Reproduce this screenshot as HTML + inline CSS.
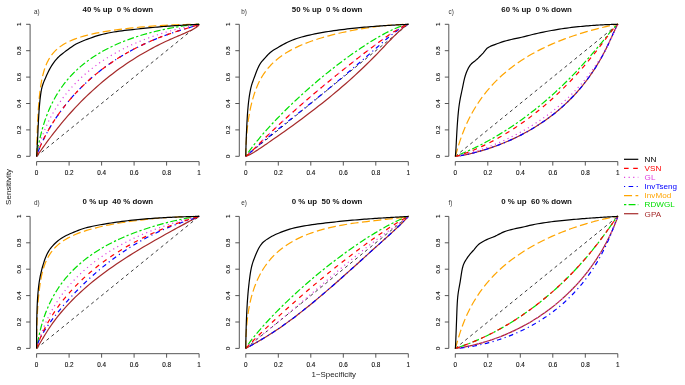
<!DOCTYPE html><html><head><meta charset="utf-8"><style>html,body{margin:0;padding:0;background:#fff;}svg{display:block;filter:blur(0.35px)}text{font-family:"Liberation Sans",sans-serif;white-space:pre}</style></head><body>
<svg width="685" height="385" viewBox="0 0 685 385">
<rect width="685" height="385" fill="#fff"/>
<line x1="30.10" y1="156.30" x2="30.10" y2="24.30" stroke="#444" stroke-width="0.9"/>
<line x1="26.10" y1="156.30" x2="30.10" y2="156.30" stroke="#444" stroke-width="0.9"/>
<text x="0" y="0" transform="translate(20.90,156.30) rotate(-90)" font-size="6.1" text-anchor="middle" fill="#111" stroke="#111" stroke-width="0.12">0</text>
<line x1="26.10" y1="129.90" x2="30.10" y2="129.90" stroke="#444" stroke-width="0.9"/>
<text x="0" y="0" transform="translate(20.90,129.90) rotate(-90)" font-size="6.1" text-anchor="middle" fill="#111" stroke="#111" stroke-width="0.12">0.2</text>
<line x1="26.10" y1="103.50" x2="30.10" y2="103.50" stroke="#444" stroke-width="0.9"/>
<text x="0" y="0" transform="translate(20.90,103.50) rotate(-90)" font-size="6.1" text-anchor="middle" fill="#111" stroke="#111" stroke-width="0.12">0.4</text>
<line x1="26.10" y1="77.10" x2="30.10" y2="77.10" stroke="#444" stroke-width="0.9"/>
<text x="0" y="0" transform="translate(20.90,77.10) rotate(-90)" font-size="6.1" text-anchor="middle" fill="#111" stroke="#111" stroke-width="0.12">0.6</text>
<line x1="26.10" y1="50.70" x2="30.10" y2="50.70" stroke="#444" stroke-width="0.9"/>
<text x="0" y="0" transform="translate(20.90,50.70) rotate(-90)" font-size="6.1" text-anchor="middle" fill="#111" stroke="#111" stroke-width="0.12">0.8</text>
<line x1="26.10" y1="24.30" x2="30.10" y2="24.30" stroke="#444" stroke-width="0.9"/>
<text x="0" y="0" transform="translate(20.90,24.30) rotate(-90)" font-size="6.1" text-anchor="middle" fill="#111" stroke="#111" stroke-width="0.12">1</text>
<line x1="36.60" y1="161.58" x2="199.10" y2="161.58" stroke="#444" stroke-width="0.9"/>
<line x1="36.60" y1="161.58" x2="36.60" y2="165.58" stroke="#444" stroke-width="0.9"/>
<text x="36.60" y="175.33" font-size="6.35" text-anchor="middle" fill="#111" stroke="#111" stroke-width="0.12">0</text>
<line x1="69.10" y1="161.58" x2="69.10" y2="165.58" stroke="#444" stroke-width="0.9"/>
<text x="69.10" y="175.33" font-size="6.35" text-anchor="middle" fill="#111" stroke="#111" stroke-width="0.12">0.2</text>
<line x1="101.60" y1="161.58" x2="101.60" y2="165.58" stroke="#444" stroke-width="0.9"/>
<text x="101.60" y="175.33" font-size="6.35" text-anchor="middle" fill="#111" stroke="#111" stroke-width="0.12">0.4</text>
<line x1="134.10" y1="161.58" x2="134.10" y2="165.58" stroke="#444" stroke-width="0.9"/>
<text x="134.10" y="175.33" font-size="6.35" text-anchor="middle" fill="#111" stroke="#111" stroke-width="0.12">0.6</text>
<line x1="166.60" y1="161.58" x2="166.60" y2="165.58" stroke="#444" stroke-width="0.9"/>
<text x="166.60" y="175.33" font-size="6.35" text-anchor="middle" fill="#111" stroke="#111" stroke-width="0.12">0.8</text>
<line x1="199.10" y1="161.58" x2="199.10" y2="165.58" stroke="#444" stroke-width="0.9"/>
<text x="199.10" y="175.33" font-size="6.35" text-anchor="middle" fill="#111" stroke="#111" stroke-width="0.12">1</text>
<line x1="36.60" y1="156.30" x2="199.10" y2="24.30" stroke="#333" stroke-width="0.95" stroke-dasharray="3.2 3.2"/>
<polyline points="36.60,156.30 36.60,156.30 36.60,156.30 36.60,156.30 36.60,156.30 36.61,156.30 36.61,156.29 36.61,156.29 36.61,156.29 36.61,156.29 36.62,156.29 36.62,156.28 36.62,156.28 36.63,156.27 36.64,156.27 36.64,156.26 36.65,156.25 36.66,156.23 36.68,156.22 36.69,156.20 36.71,156.18 36.74,156.15 36.76,156.12 36.79,156.08 36.83,156.03 36.87,155.98 36.92,155.91 36.98,155.84 37.05,155.75 37.13,155.64 37.22,155.52 37.32,155.38 37.44,155.22 37.58,155.03 37.74,154.81 37.92,154.56 38.12,154.28 38.35,153.96 38.61,153.60 38.90,153.19 39.23,152.72 39.60,152.21 40.01,151.63 40.47,150.98 40.97,150.27 41.53,149.48 42.15,148.61 42.84,147.66 43.59,146.61 44.41,145.48 45.30,144.24 46.28,142.90 47.34,141.46 48.48,139.91 49.72,138.25 51.06,136.49 52.49,134.61 54.02,132.63 55.66,130.53 57.40,128.34 59.25,126.04 61.21,123.65 63.28,121.17 65.46,118.61 67.75,115.97 70.15,113.27 72.65,110.50 75.25,107.69 77.96,104.83 80.76,101.95 83.65,99.04 86.63,96.13 89.69,93.22 92.82,90.32 96.02,87.43 99.27,84.58 102.58,81.77 105.93,79.01 109.31,76.30 112.72,73.66 116.14,71.08 119.56,68.58 122.98,66.15 126.39,63.82 129.77,61.56 133.12,59.40 136.43,57.33 139.68,55.35 142.88,53.46 146.01,51.67 149.07,49.97 152.05,48.35 154.94,46.83 157.74,45.39 160.45,44.04 163.05,42.77 165.55,41.58 167.95,40.46 170.24,39.42 172.42,38.45 174.49,37.54 176.45,36.70 178.30,35.91 180.04,35.18 181.68,34.50 183.21,33.85 184.64,33.24 185.98,32.65 187.22,32.10 188.36,31.57 189.42,31.08 190.40,30.61 191.29,30.17 192.11,29.75 192.86,29.36 193.55,28.99 194.17,28.64 194.73,28.31 195.23,28.01 195.69,27.72 196.10,27.46 196.47,27.21 196.80,26.97 197.09,26.76 197.35,26.56 197.58,26.37 197.78,26.20 197.96,26.04 198.12,25.89 198.26,25.75 198.38,25.62 198.48,25.50 198.57,25.40 198.65,25.30 198.72,25.20 198.78,25.12 198.83,25.04 198.87,24.97 198.91,24.91 198.94,24.85 198.96,24.80 198.99,24.75 199.01,24.70 199.02,24.66 199.04,24.63 199.05,24.59 199.06,24.56 199.06,24.53 199.07,24.51 199.08,24.49 199.08,24.47 199.08,24.45 199.09,24.43 199.09,24.42 199.09,24.40 199.09,24.39 199.09,24.38 199.10,24.37 199.10,24.36 199.10,24.36 199.10,24.35 199.10,24.30" fill="none" stroke="#a52a2a" stroke-width="1.2" stroke-linejoin="round"/>
<polyline points="36.60,156.30 36.60,156.29 36.60,156.29 36.60,156.29 36.60,156.29 36.61,156.28 36.61,156.28 36.61,156.27 36.61,156.26 36.61,156.25 36.62,156.24 36.62,156.22 36.62,156.20 36.63,156.17 36.64,156.14 36.64,156.10 36.65,156.04 36.66,155.98 36.68,155.91 36.69,155.81 36.71,155.70 36.74,155.57 36.76,155.41 36.79,155.22 36.83,155.00 36.87,154.74 36.92,154.43 36.98,154.07 37.05,153.66 37.13,153.18 37.22,152.63 37.32,152.01 37.44,151.29 37.58,150.49 37.74,149.58 37.92,148.57 38.12,147.43 38.35,146.18 38.61,144.79 38.90,143.29 39.23,141.67 39.60,139.93 40.01,138.08 40.47,136.10 40.97,134.02 41.53,131.82 42.15,129.52 42.84,127.13 43.59,124.64 44.41,122.07 45.30,119.42 46.28,116.70 47.34,113.93 48.48,111.10 49.72,108.24 51.06,105.34 52.49,102.42 54.02,99.49 55.66,96.56 57.40,93.63 59.25,90.72 61.21,87.83 63.28,84.98 65.46,82.16 67.75,79.38 70.15,76.66 72.65,73.99 75.25,71.39 77.96,68.85 80.76,66.38 83.65,63.99 86.63,61.67 89.69,59.44 92.82,57.28 96.02,55.21 99.27,53.23 102.58,51.32 105.93,49.50 109.31,47.77 112.72,46.12 116.14,44.55 119.56,43.06 122.98,41.66 126.39,40.33 129.77,39.07 133.12,37.90 136.43,36.79 139.68,35.75 142.88,34.78 146.01,33.87 149.07,33.03 152.05,32.24 154.94,31.51 157.74,30.84 160.45,30.21 163.05,29.64 165.55,29.11 167.95,28.62 170.24,28.17 172.42,27.76 174.49,27.39 176.45,27.05 178.30,26.74 180.04,26.46 181.68,26.21 183.21,25.99 184.64,25.78 185.98,25.60 187.22,25.44 188.36,25.30 189.42,25.17 190.40,25.06 191.29,24.96 192.11,24.87 192.86,24.79 193.55,24.72 194.17,24.66 194.73,24.61 195.23,24.57 195.69,24.53 196.10,24.50 196.47,24.47 196.80,24.44 197.09,24.42 197.35,24.40 197.58,24.39 197.78,24.37 197.96,24.36 198.12,24.35 198.26,24.34 198.38,24.34 198.48,24.33 198.57,24.32 198.65,24.32 198.72,24.32 198.78,24.31 198.83,24.31 198.87,24.31 198.91,24.31 198.94,24.31 198.96,24.31 198.99,24.30 199.01,24.30 199.02,24.30 199.04,24.30 199.05,24.30 199.06,24.30 199.06,24.30 199.07,24.30 199.08,24.30 199.08,24.30 199.08,24.30 199.09,24.30 199.09,24.30 199.09,24.30 199.09,24.30 199.09,24.30 199.10,24.30 199.10,24.30 199.10,24.30 199.10,24.30 199.10,24.30" fill="none" stroke="#00e000" stroke-width="1.2" stroke-dasharray="2.30 2.30 6.90 2.30" stroke-linejoin="round"/>
<polyline points="36.60,156.30 36.60,156.29 36.60,156.29 36.60,156.29 36.60,156.28 36.61,156.28 36.61,156.27 36.61,156.27 36.61,156.26 36.61,156.25 36.62,156.24 36.62,156.22 36.62,156.21 36.63,156.19 36.64,156.16 36.64,156.13 36.65,156.10 36.66,156.06 36.68,156.01 36.69,155.95 36.71,155.88 36.74,155.81 36.76,155.72 36.79,155.61 36.83,155.49 36.87,155.35 36.92,155.18 36.98,155.00 37.05,154.78 37.13,154.54 37.22,154.27 37.32,153.96 37.44,153.60 37.58,153.21 37.74,152.77 37.92,152.27 38.12,151.72 38.35,151.11 38.61,150.44 38.90,149.70 39.23,148.88 39.60,147.98 40.01,147.01 40.47,145.95 40.97,144.80 41.53,143.55 42.15,142.21 42.84,140.77 43.59,139.23 44.41,137.59 45.30,135.85 46.28,134.00 47.34,132.06 48.48,130.01 49.72,127.87 51.06,125.64 52.49,123.31 54.02,120.90 55.66,118.41 57.40,115.85 59.25,113.22 61.21,110.53 63.28,107.79 65.46,105.00 67.75,102.19 70.15,99.34 72.65,96.48 75.25,93.62 77.96,90.75 80.76,87.90 83.65,85.06 86.63,82.25 89.69,79.48 92.82,76.76 96.02,74.09 99.27,71.47 102.58,68.92 105.93,66.44 109.31,64.03 112.72,61.70 116.14,59.46 119.56,57.29 122.98,55.22 126.39,53.24 129.77,51.34 133.12,49.53 136.43,47.82 139.68,46.19 142.88,44.65 146.01,43.19 149.07,41.82 152.05,40.54 154.94,39.33 157.74,38.19 160.45,37.14 163.05,36.15 165.55,35.23 167.95,34.37 170.24,33.58 172.42,32.84 174.49,32.16 176.45,31.53 178.30,30.94 180.04,30.40 181.68,29.91 183.21,29.44 184.64,29.01 185.98,28.61 187.22,28.24 188.36,27.89 189.42,27.57 190.40,27.28 191.29,27.00 192.11,26.75 192.86,26.52 193.55,26.31 194.17,26.11 194.73,25.94 195.23,25.77 195.69,25.62 196.10,25.49 196.47,25.37 196.80,25.25 197.09,25.15 197.35,25.06 197.58,24.98 197.78,24.90 197.96,24.84 198.12,24.78 198.26,24.72 198.38,24.67 198.48,24.63 198.57,24.59 198.65,24.56 198.72,24.53 198.78,24.50 198.83,24.47 198.87,24.45 198.91,24.43 198.94,24.42 198.96,24.40 198.99,24.39 199.01,24.38 199.02,24.37 199.04,24.36 199.05,24.35 199.06,24.34 199.06,24.34 199.07,24.33 199.08,24.33 199.08,24.32 199.08,24.32 199.09,24.32 199.09,24.31 199.09,24.31 199.09,24.31 199.09,24.31 199.10,24.31 199.10,24.31 199.10,24.31 199.10,24.30 199.10,24.30" fill="none" stroke="#0000ff" stroke-width="1.2" stroke-dasharray="1.15 3.45 4.60 3.45" stroke-linejoin="round"/>
<polyline points="36.60,156.30 36.60,156.29 36.60,156.29 36.60,156.28 36.60,156.28 36.61,156.27 36.61,156.26 36.61,156.25 36.61,156.24 36.61,156.23 36.62,156.21 36.62,156.19 36.62,156.17 36.63,156.14 36.64,156.10 36.64,156.06 36.65,156.01 36.66,155.95 36.68,155.88 36.69,155.79 36.71,155.70 36.74,155.58 36.76,155.44 36.79,155.29 36.83,155.10 36.87,154.89 36.92,154.65 36.98,154.37 37.05,154.06 37.13,153.70 37.22,153.29 37.32,152.83 37.44,152.31 37.58,151.73 37.74,151.08 37.92,150.36 38.12,149.56 38.35,148.68 38.61,147.71 38.90,146.64 39.23,145.48 39.60,144.23 40.01,142.87 40.47,141.42 40.97,139.86 41.53,138.21 42.15,136.45 42.84,134.59 43.59,132.64 44.41,130.59 45.30,128.45 46.28,126.22 47.34,123.90 48.48,121.50 49.72,119.03 51.06,116.49 52.49,113.90 54.02,111.24 55.66,108.54 57.40,105.80 59.25,103.03 61.21,100.24 63.28,97.44 65.46,94.63 67.75,91.82 70.15,89.02 72.65,86.23 75.25,83.48 77.96,80.75 80.76,78.07 83.65,75.43 86.63,72.84 89.69,70.31 92.82,67.84 96.02,65.44 99.27,63.11 102.58,60.86 105.93,58.68 109.31,56.58 112.72,54.56 116.14,52.62 119.56,50.76 122.98,48.99 126.39,47.31 129.77,45.70 133.12,44.18 136.43,42.73 139.68,41.37 142.88,40.08 146.01,38.87 149.07,37.73 152.05,36.67 154.94,35.67 157.74,34.74 160.45,33.87 163.05,33.06 165.55,32.30 167.95,31.61 170.24,30.96 172.42,30.36 174.49,29.81 176.45,29.30 178.30,28.84 180.04,28.41 181.68,28.01 183.21,27.65 184.64,27.32 185.98,27.02 187.22,26.74 188.36,26.49 189.42,26.26 190.40,26.05 191.29,25.86 192.11,25.69 192.86,25.53 193.55,25.39 194.17,25.27 194.73,25.16 195.23,25.06 195.69,24.97 196.10,24.88 196.47,24.81 196.80,24.75 197.09,24.69 197.35,24.64 197.58,24.60 197.78,24.56 197.96,24.53 198.12,24.50 198.26,24.47 198.38,24.45 198.48,24.43 198.57,24.41 198.65,24.39 198.72,24.38 198.78,24.37 198.83,24.36 198.87,24.35 198.91,24.34 198.94,24.34 198.96,24.33 198.99,24.33 199.01,24.32 199.02,24.32 199.04,24.32 199.05,24.31 199.06,24.31 199.06,24.31 199.07,24.31 199.08,24.31 199.08,24.31 199.08,24.30 199.09,24.30 199.09,24.30 199.09,24.30 199.09,24.30 199.09,24.30 199.10,24.30 199.10,24.30 199.10,24.30 199.10,24.30 199.10,24.30" fill="none" stroke="#e040e0" stroke-width="1.2" stroke-dasharray="1.15 3.45" stroke-linejoin="round"/>
<polyline points="36.60,156.30 36.60,156.29 36.60,156.29 36.60,156.29 36.60,156.28 36.61,156.28 36.61,156.27 36.61,156.27 36.61,156.26 36.61,156.25 36.62,156.24 36.62,156.22 36.62,156.21 36.63,156.19 36.64,156.16 36.64,156.13 36.65,156.10 36.66,156.06 36.68,156.01 36.69,155.95 36.71,155.88 36.74,155.81 36.76,155.72 36.79,155.61 36.83,155.49 36.87,155.35 36.92,155.18 36.98,155.00 37.05,154.78 37.13,154.54 37.22,154.27 37.32,153.96 37.44,153.60 37.58,153.21 37.74,152.77 37.92,152.27 38.12,151.72 38.35,151.11 38.61,150.44 38.90,149.70 39.23,148.88 39.60,147.98 40.01,147.01 40.47,145.95 40.97,144.80 41.53,143.55 42.15,142.21 42.84,140.77 43.59,139.23 44.41,137.59 45.30,135.85 46.28,134.00 47.34,132.06 48.48,130.01 49.72,127.87 51.06,125.64 52.49,123.31 54.02,120.90 55.66,118.41 57.40,115.85 59.25,113.22 61.21,110.53 63.28,107.79 65.46,105.00 67.75,102.19 70.15,99.34 72.65,96.48 75.25,93.62 77.96,90.75 80.76,87.90 83.65,85.06 86.63,82.25 89.69,79.48 92.82,76.76 96.02,74.09 99.27,71.47 102.58,68.92 105.93,66.44 109.31,64.03 112.72,61.70 116.14,59.46 119.56,57.29 122.98,55.22 126.39,53.24 129.77,51.34 133.12,49.53 136.43,47.82 139.68,46.19 142.88,44.65 146.01,43.19 149.07,41.82 152.05,40.54 154.94,39.33 157.74,38.19 160.45,37.14 163.05,36.15 165.55,35.23 167.95,34.37 170.24,33.58 172.42,32.84 174.49,32.16 176.45,31.53 178.30,30.94 180.04,30.40 181.68,29.91 183.21,29.44 184.64,29.01 185.98,28.61 187.22,28.24 188.36,27.89 189.42,27.57 190.40,27.28 191.29,27.00 192.11,26.75 192.86,26.52 193.55,26.31 194.17,26.11 194.73,25.94 195.23,25.77 195.69,25.62 196.10,25.49 196.47,25.37 196.80,25.25 197.09,25.15 197.35,25.06 197.58,24.98 197.78,24.90 197.96,24.84 198.12,24.78 198.26,24.72 198.38,24.67 198.48,24.63 198.57,24.59 198.65,24.56 198.72,24.53 198.78,24.50 198.83,24.47 198.87,24.45 198.91,24.43 198.94,24.42 198.96,24.40 198.99,24.39 199.01,24.38 199.02,24.37 199.04,24.36 199.05,24.35 199.06,24.34 199.06,24.34 199.07,24.33 199.08,24.33 199.08,24.32 199.08,24.32 199.09,24.32 199.09,24.31 199.09,24.31 199.09,24.31 199.09,24.31 199.10,24.31 199.10,24.31 199.10,24.31 199.10,24.30 199.10,24.30" fill="none" stroke="#ff0000" stroke-width="1.2" stroke-dasharray="4.60 4.60" stroke-linejoin="round"/>
<polyline points="36.60,156.30 36.60,156.27 36.60,156.26 36.60,156.24 36.60,156.22 36.61,156.19 36.61,156.16 36.61,156.11 36.61,156.05 36.61,155.96 36.62,155.86 36.62,155.73 36.62,155.56 36.63,155.35 36.64,155.08 36.64,154.76 36.65,154.36 36.66,153.88 36.68,153.31 36.69,152.61 36.71,151.79 36.74,150.83 36.76,149.71 36.79,148.41 36.83,146.91 36.87,145.21 36.92,143.29 36.98,141.13 37.05,138.73 37.13,136.08 37.22,133.18 37.32,130.05 37.44,126.76 37.58,123.34 37.74,119.83 37.92,116.23 38.12,112.59 38.35,108.92 38.61,105.25 38.90,101.60 39.23,97.99 39.60,94.44 40.01,90.96 40.47,87.57 40.97,84.28 41.53,81.09 42.15,78.02 42.84,75.06 43.59,72.23 44.41,69.52 45.30,66.93 46.28,64.47 47.34,62.12 48.48,59.90 49.72,57.79 51.06,55.79 52.49,53.89 54.02,52.10 55.66,50.41 57.40,48.81 59.25,47.30 61.21,45.88 63.28,44.53 65.46,43.26 67.75,42.07 70.15,40.94 72.65,39.87 75.25,38.86 77.96,37.91 80.76,37.01 83.65,36.16 86.63,35.36 89.69,34.60 92.82,33.89 96.02,33.21 99.27,32.57 102.58,31.97 105.93,31.40 109.31,30.86 112.72,30.35 116.14,29.87 119.56,29.42 122.98,28.99 126.39,28.59 129.77,28.22 133.12,27.86 136.43,27.53 139.68,27.22 142.88,26.94 146.01,26.67 149.07,26.42 152.05,26.19 154.94,25.97 157.74,25.78 160.45,25.60 163.05,25.44 165.55,25.29 167.95,25.16 170.24,25.04 172.42,24.94 174.49,24.85 176.45,24.77 178.30,24.70 180.04,24.64 181.68,24.59 183.21,24.55 184.64,24.51 185.98,24.48 187.22,24.45 188.36,24.42 189.42,24.40 190.40,24.39 191.29,24.37 192.11,24.36 192.86,24.35 193.55,24.34 194.17,24.33 194.73,24.33 195.23,24.32 195.69,24.32 196.10,24.32 196.47,24.31 196.80,24.31 197.09,24.31 197.35,24.31 197.58,24.31 197.78,24.30 197.96,24.30 198.12,24.30 198.26,24.30 198.38,24.30 198.48,24.30 198.57,24.30 198.65,24.30 198.72,24.30 198.78,24.30 198.83,24.30 198.87,24.30 198.91,24.30 198.94,24.30 198.96,24.30 198.99,24.30 199.01,24.30 199.02,24.30 199.04,24.30 199.05,24.30 199.06,24.30 199.06,24.30 199.07,24.30 199.08,24.30 199.08,24.30 199.08,24.30 199.09,24.30 199.09,24.30 199.09,24.30 199.09,24.30 199.09,24.30 199.10,24.30 199.10,24.30 199.10,24.30 199.10,24.30 199.10,24.30" fill="none" stroke="#ffa500" stroke-width="1.2" stroke-dasharray="8.05 3.45" stroke-linejoin="round"/>
<polyline points="36.60,156.30 36.60,156.30 36.60,156.30 36.60,156.30 36.60,156.30 36.60,156.29 36.61,156.29 36.61,156.29 36.61,156.28 36.61,156.28 36.61,156.27 36.61,156.26 36.62,156.25 36.62,156.24 36.62,156.22 36.62,156.19 36.63,156.16 36.63,156.12 36.64,156.06 36.65,156.00 36.66,155.92 36.66,155.82 36.67,155.69 36.69,155.54 36.70,155.35 36.72,155.13 36.74,154.86 36.76,154.54 36.78,154.16 36.81,153.72 36.84,153.19 36.87,152.58 36.91,151.87 36.96,151.06 37.01,150.12 37.06,149.06 37.13,147.85 37.20,146.50 37.28,144.98 37.37,143.30 37.47,141.44 37.58,139.40 37.70,137.17 37.84,134.13 37.99,130.63 38.16,126.96 38.34,123.17 38.54,119.32 38.77,115.46 39.01,111.65 39.28,107.92 39.58,104.33 39.90,100.90 40.25,97.68 40.64,94.70 41.05,91.96 41.50,89.49 41.99,87.33 42.52,85.44 43.08,83.73 43.70,82.14 44.36,80.57 45.06,78.95 45.82,77.21 46.63,75.35 47.49,73.45 48.41,71.54 49.38,69.64 50.42,67.76 51.52,65.92 52.68,64.14 53.91,62.41 55.20,60.72 56.56,59.08 57.99,57.52 59.49,56.07 61.06,54.72 62.70,53.42 64.41,52.13 66.18,50.81 68.03,49.44 69.95,48.03 71.93,46.64 73.98,45.32 76.10,44.09 78.28,42.97 80.52,41.93 82.81,40.94 85.17,40.00 87.57,39.09 90.03,38.20 92.53,37.32 95.08,36.43 97.66,35.62 100.28,34.89 102.93,34.22 105.61,33.60 108.31,33.03 111.02,32.50 113.75,32.02 116.48,31.58 119.22,31.18 121.95,30.81 124.68,30.47 127.39,30.15 130.09,29.85 132.77,29.55 135.42,29.27 138.04,28.99 140.62,28.72 143.17,28.45 145.67,28.19 148.13,27.95 150.53,27.71 152.89,27.49 155.18,27.27 157.42,27.07 159.60,26.87 161.72,26.69 163.77,26.51 165.75,26.35 167.67,26.20 169.52,26.06 171.29,25.93 173.00,25.81 174.64,25.70 176.21,25.59 177.71,25.49 179.14,25.40 180.50,25.32 181.79,25.24 183.02,25.16 184.18,25.09 185.28,25.03 186.32,24.97 187.29,24.92 188.21,24.87 189.07,24.82 189.88,24.77 190.64,24.73 191.34,24.70 192.00,24.66 192.62,24.63 193.18,24.60 193.71,24.58 194.20,24.55 194.65,24.53 195.06,24.51 195.45,24.49 195.80,24.47 196.12,24.46 196.42,24.44 196.69,24.43 196.93,24.42 197.16,24.40 197.36,24.39 197.54,24.38 197.71,24.38 197.86,24.37 198.00,24.36 198.12,24.36 198.23,24.35 198.33,24.35 198.42,24.34 198.50,24.34 198.57,24.33 198.64,24.33 198.69,24.33 198.74,24.32 198.79,24.32 198.83,24.32 198.86,24.32 198.89,24.31 198.92,24.31 198.94,24.31 198.96,24.31 198.98,24.31 199.00,24.31 199.01,24.31 199.03,24.31 199.04,24.31 199.04,24.31 199.05,24.30 199.06,24.30 199.07,24.30 199.07,24.30 199.08,24.30 199.08,24.30 199.08,24.30 199.08,24.30 199.09,24.30 199.09,24.30 199.09,24.30 199.09,24.30 199.09,24.30 199.09,24.30 199.10,24.30 199.10,24.30 199.10,24.30 199.10,24.30 199.10,24.30 199.10,24.30" fill="none" stroke="#000000" stroke-width="1.2" stroke-linejoin="round"/>
<text xml:space="preserve" x="117.85" y="11.90" font-size="7.9" font-weight="bold" text-anchor="middle" fill="#111">40 % up  0 % down</text>
<text x="34.00" y="13.90" font-size="6.3" fill="#333">a)</text>
<line x1="239.30" y1="156.30" x2="239.30" y2="24.30" stroke="#444" stroke-width="0.9"/>
<line x1="235.30" y1="156.30" x2="239.30" y2="156.30" stroke="#444" stroke-width="0.9"/>
<text x="0" y="0" transform="translate(230.10,156.30) rotate(-90)" font-size="6.1" text-anchor="middle" fill="#111" stroke="#111" stroke-width="0.12">0</text>
<line x1="235.30" y1="129.90" x2="239.30" y2="129.90" stroke="#444" stroke-width="0.9"/>
<text x="0" y="0" transform="translate(230.10,129.90) rotate(-90)" font-size="6.1" text-anchor="middle" fill="#111" stroke="#111" stroke-width="0.12">0.2</text>
<line x1="235.30" y1="103.50" x2="239.30" y2="103.50" stroke="#444" stroke-width="0.9"/>
<text x="0" y="0" transform="translate(230.10,103.50) rotate(-90)" font-size="6.1" text-anchor="middle" fill="#111" stroke="#111" stroke-width="0.12">0.4</text>
<line x1="235.30" y1="77.10" x2="239.30" y2="77.10" stroke="#444" stroke-width="0.9"/>
<text x="0" y="0" transform="translate(230.10,77.10) rotate(-90)" font-size="6.1" text-anchor="middle" fill="#111" stroke="#111" stroke-width="0.12">0.6</text>
<line x1="235.30" y1="50.70" x2="239.30" y2="50.70" stroke="#444" stroke-width="0.9"/>
<text x="0" y="0" transform="translate(230.10,50.70) rotate(-90)" font-size="6.1" text-anchor="middle" fill="#111" stroke="#111" stroke-width="0.12">0.8</text>
<line x1="235.30" y1="24.30" x2="239.30" y2="24.30" stroke="#444" stroke-width="0.9"/>
<text x="0" y="0" transform="translate(230.10,24.30) rotate(-90)" font-size="6.1" text-anchor="middle" fill="#111" stroke="#111" stroke-width="0.12">1</text>
<line x1="245.80" y1="161.58" x2="408.30" y2="161.58" stroke="#444" stroke-width="0.9"/>
<line x1="245.80" y1="161.58" x2="245.80" y2="165.58" stroke="#444" stroke-width="0.9"/>
<text x="245.80" y="175.33" font-size="6.35" text-anchor="middle" fill="#111" stroke="#111" stroke-width="0.12">0</text>
<line x1="278.30" y1="161.58" x2="278.30" y2="165.58" stroke="#444" stroke-width="0.9"/>
<text x="278.30" y="175.33" font-size="6.35" text-anchor="middle" fill="#111" stroke="#111" stroke-width="0.12">0.2</text>
<line x1="310.80" y1="161.58" x2="310.80" y2="165.58" stroke="#444" stroke-width="0.9"/>
<text x="310.80" y="175.33" font-size="6.35" text-anchor="middle" fill="#111" stroke="#111" stroke-width="0.12">0.4</text>
<line x1="343.30" y1="161.58" x2="343.30" y2="165.58" stroke="#444" stroke-width="0.9"/>
<text x="343.30" y="175.33" font-size="6.35" text-anchor="middle" fill="#111" stroke="#111" stroke-width="0.12">0.6</text>
<line x1="375.80" y1="161.58" x2="375.80" y2="165.58" stroke="#444" stroke-width="0.9"/>
<text x="375.80" y="175.33" font-size="6.35" text-anchor="middle" fill="#111" stroke="#111" stroke-width="0.12">0.8</text>
<line x1="408.30" y1="161.58" x2="408.30" y2="165.58" stroke="#444" stroke-width="0.9"/>
<text x="408.30" y="175.33" font-size="6.35" text-anchor="middle" fill="#111" stroke="#111" stroke-width="0.12">1</text>
<line x1="245.80" y1="156.30" x2="408.30" y2="24.30" stroke="#333" stroke-width="0.95" stroke-dasharray="3.2 3.2"/>
<polyline points="245.80,156.30 245.80,156.30 245.80,156.30 245.80,156.30 245.80,156.30 245.81,156.30 245.81,156.30 245.81,156.30 245.81,156.30 245.81,156.30 245.82,156.30 245.82,156.30 245.82,156.30 245.83,156.30 245.84,156.29 245.84,156.29 245.85,156.29 245.86,156.29 245.88,156.29 245.89,156.28 245.91,156.28 245.94,156.27 245.96,156.27 245.99,156.26 246.03,156.25 246.07,156.24 246.12,156.22 246.18,156.20 246.25,156.18 246.33,156.16 246.42,156.13 246.52,156.09 246.64,156.05 246.78,156.00 246.94,155.94 247.12,155.86 247.32,155.78 247.55,155.68 247.81,155.57 248.10,155.44 248.43,155.28 248.80,155.11 249.21,154.90 249.67,154.67 250.17,154.40 250.73,154.10 251.35,153.76 252.04,153.38 252.79,152.94 253.61,152.46 254.50,151.91 255.48,151.31 256.54,150.63 257.68,149.89 258.92,149.08 260.26,148.19 261.69,147.23 263.22,146.20 264.86,145.09 266.60,143.90 268.45,142.63 270.41,141.28 272.48,139.85 274.66,138.33 276.95,136.73 279.35,135.04 281.85,133.28 284.45,131.43 287.16,129.49 289.96,127.48 292.85,125.39 295.83,123.22 298.89,120.97 302.02,118.66 305.22,116.27 308.47,113.82 311.78,111.30 315.13,108.72 318.51,106.09 321.92,103.41 325.34,100.69 328.76,97.92 332.18,95.12 335.59,92.30 338.97,89.45 342.32,86.58 345.63,83.71 348.88,80.84 352.08,77.98 355.21,75.13 358.27,72.30 361.25,69.50 364.14,66.75 366.94,64.03 369.65,61.38 372.25,58.78 374.75,56.25 377.15,53.80 379.44,51.44 381.62,49.16 383.69,46.98 385.65,44.91 387.50,42.96 389.24,41.15 390.88,39.46 392.41,37.90 393.84,36.45 395.18,35.13 396.42,33.91 397.56,32.81 398.62,31.80 399.60,30.89 400.49,30.07 401.31,29.34 402.06,28.68 402.75,28.09 403.37,27.58 403.93,27.12 404.43,26.72 404.89,26.36 405.30,26.06 405.67,25.79 406.00,25.56 406.29,25.36 406.55,25.19 406.78,25.04 406.98,24.92 407.16,24.81 407.32,24.72 407.46,24.65 407.58,24.59 407.68,24.53 407.77,24.49 407.85,24.45 407.92,24.43 407.98,24.40 408.03,24.38 408.07,24.36 408.11,24.35 408.14,24.34 408.16,24.33 408.19,24.33 408.21,24.32 408.22,24.32 408.24,24.31 408.25,24.31 408.26,24.31 408.26,24.31 408.27,24.30 408.28,24.30 408.28,24.30 408.28,24.30 408.29,24.30 408.29,24.30 408.29,24.30 408.29,24.30 408.29,24.30 408.30,24.30 408.30,24.30 408.30,24.30 408.30,24.30 408.30,24.30" fill="none" stroke="#a52a2a" stroke-width="1.2" stroke-linejoin="round"/>
<polyline points="245.80,156.30 245.80,156.30 245.80,156.29 245.80,156.29 245.80,156.29 245.81,156.29 245.81,156.29 245.81,156.28 245.81,156.28 245.81,156.28 245.82,156.27 245.82,156.26 245.82,156.26 245.83,156.25 245.84,156.24 245.84,156.22 245.85,156.21 245.86,156.19 245.88,156.16 245.89,156.14 245.91,156.10 245.94,156.07 245.96,156.02 245.99,155.97 246.03,155.91 246.07,155.84 246.12,155.76 246.18,155.66 246.25,155.55 246.33,155.43 246.42,155.29 246.52,155.12 246.64,154.94 246.78,154.73 246.94,154.49 247.12,154.22 247.32,153.92 247.55,153.58 247.81,153.20 248.10,152.78 248.43,152.31 248.80,151.79 249.21,151.21 249.67,150.58 250.17,149.88 250.73,149.12 251.35,148.29 252.04,147.39 252.79,146.41 253.61,145.35 254.50,144.21 255.48,142.98 256.54,141.66 257.68,140.26 258.92,138.76 260.26,137.18 261.69,135.50 263.22,133.72 264.86,131.85 266.60,129.89 268.45,127.84 270.41,125.70 272.48,123.47 274.66,121.16 276.95,118.77 279.35,116.30 281.85,113.76 284.45,111.15 287.16,108.49 289.96,105.76 292.85,103.00 295.83,100.19 298.89,97.35 302.02,94.48 305.22,91.60 308.47,88.71 311.78,85.83 315.13,82.95 318.51,80.08 321.92,77.25 325.34,74.44 328.76,71.68 332.18,68.97 335.59,66.31 338.97,63.72 342.32,61.19 345.63,58.75 348.88,56.38 352.08,54.09 355.21,51.90 358.27,49.80 361.25,47.79 364.14,45.88 366.94,44.07 369.65,42.36 372.25,40.74 374.75,39.23 377.15,37.81 379.44,36.49 381.62,35.26 383.69,34.13 385.65,33.08 387.50,32.13 389.24,31.25 390.88,30.46 392.41,29.74 393.84,29.09 395.18,28.50 396.42,27.98 397.56,27.51 398.62,27.09 399.60,26.72 400.49,26.39 401.31,26.10 402.06,25.85 402.75,25.63 403.37,25.43 403.93,25.26 404.43,25.12 404.89,24.99 405.30,24.88 405.67,24.79 406.00,24.71 406.29,24.64 406.55,24.59 406.78,24.54 406.98,24.50 407.16,24.46 407.32,24.43 407.46,24.41 407.58,24.39 407.68,24.37 407.77,24.36 407.85,24.35 407.92,24.34 407.98,24.33 408.03,24.32 408.07,24.32 408.11,24.32 408.14,24.31 408.16,24.31 408.19,24.31 408.21,24.31 408.22,24.30 408.24,24.30 408.25,24.30 408.26,24.30 408.26,24.30 408.27,24.30 408.28,24.30 408.28,24.30 408.28,24.30 408.29,24.30 408.29,24.30 408.29,24.30 408.29,24.30 408.29,24.30 408.30,24.30 408.30,24.30 408.30,24.30 408.30,24.30 408.30,24.30" fill="none" stroke="#00e000" stroke-width="1.2" stroke-dasharray="2.30 2.30 6.90 2.30" stroke-linejoin="round"/>
<polyline points="245.80,156.30 245.80,156.30 245.80,156.30 245.80,156.30 245.80,156.30 245.81,156.29 245.81,156.29 245.81,156.29 245.81,156.29 245.81,156.29 245.82,156.29 245.82,156.28 245.82,156.28 245.83,156.27 245.84,156.27 245.84,156.26 245.85,156.25 245.86,156.24 245.88,156.23 245.89,156.21 245.91,156.20 245.94,156.18 245.96,156.15 245.99,156.12 246.03,156.09 246.07,156.05 246.12,156.01 246.18,155.96 246.25,155.90 246.33,155.83 246.42,155.75 246.52,155.65 246.64,155.55 246.78,155.43 246.94,155.29 247.12,155.13 247.32,154.95 247.55,154.75 247.81,154.52 248.10,154.27 248.43,153.98 248.80,153.66 249.21,153.31 249.67,152.91 250.17,152.47 250.73,151.99 251.35,151.45 252.04,150.86 252.79,150.22 253.61,149.51 254.50,148.75 255.48,147.91 256.54,147.01 257.68,146.03 258.92,144.98 260.26,143.86 261.69,142.66 263.22,141.38 264.86,140.02 266.60,138.59 268.45,137.07 270.41,135.48 272.48,133.80 274.66,132.04 276.95,130.20 279.35,128.28 281.85,126.28 284.45,124.21 287.16,122.05 289.96,119.82 292.85,117.52 295.83,115.15 298.89,112.72 302.02,110.22 305.22,107.67 308.47,105.06 311.78,102.41 315.13,99.71 318.51,96.98 321.92,94.21 325.34,91.42 328.76,88.62 332.18,85.80 335.59,82.98 338.97,80.16 342.32,77.35 345.63,74.56 348.88,71.80 352.08,69.07 355.21,66.39 358.27,63.75 361.25,61.17 364.14,58.65 366.94,56.21 369.65,53.84 372.25,51.55 374.75,49.35 377.15,47.24 379.44,45.23 381.62,43.32 383.69,41.51 385.65,39.82 387.50,38.24 389.24,36.79 390.88,35.45 392.41,34.22 393.84,33.10 395.18,32.07 396.42,31.15 397.56,30.31 398.62,29.56 399.60,28.88 400.49,28.28 401.31,27.75 402.06,27.28 402.75,26.86 403.37,26.49 403.93,26.17 404.43,25.89 404.89,25.65 405.30,25.44 405.67,25.26 406.00,25.11 406.29,24.97 406.55,24.86 406.78,24.77 406.98,24.68 407.16,24.62 407.32,24.56 407.46,24.51 407.58,24.47 407.68,24.44 407.77,24.41 407.85,24.39 407.92,24.37 407.98,24.36 408.03,24.35 408.07,24.34 408.11,24.33 408.14,24.32 408.16,24.32 408.19,24.31 408.21,24.31 408.22,24.31 408.24,24.31 408.25,24.31 408.26,24.30 408.26,24.30 408.27,24.30 408.28,24.30 408.28,24.30 408.28,24.30 408.29,24.30 408.29,24.30 408.29,24.30 408.29,24.30 408.29,24.30 408.30,24.30 408.30,24.30 408.30,24.30 408.30,24.30 408.30,24.30" fill="none" stroke="#0000ff" stroke-width="1.2" stroke-dasharray="1.15 3.45 4.60 3.45" stroke-linejoin="round"/>
<polyline points="245.80,156.30 245.80,156.30 245.80,156.30 245.80,156.30 245.80,156.30 245.81,156.30 245.81,156.30 245.81,156.30 245.81,156.30 245.81,156.30 245.82,156.29 245.82,156.29 245.82,156.29 245.83,156.29 245.84,156.29 245.84,156.28 245.85,156.28 245.86,156.27 245.88,156.26 245.89,156.25 245.91,156.24 245.94,156.23 245.96,156.21 245.99,156.19 246.03,156.17 246.07,156.14 246.12,156.11 246.18,156.07 246.25,156.02 246.33,155.96 246.42,155.90 246.52,155.82 246.64,155.73 246.78,155.62 246.94,155.49 247.12,155.35 247.32,155.18 247.55,154.99 247.81,154.76 248.10,154.51 248.43,154.22 248.80,153.89 249.21,153.52 249.67,153.10 250.17,152.63 250.73,152.10 251.35,151.51 252.04,150.86 252.79,150.13 253.61,149.33 254.50,148.45 255.48,147.48 256.54,146.42 257.68,145.27 258.92,144.04 260.26,142.71 261.69,141.29 263.22,139.77 264.86,138.17 266.60,136.47 268.45,134.67 270.41,132.79 272.48,130.81 274.66,128.75 276.95,126.59 279.35,124.36 281.85,122.05 284.45,119.66 287.16,117.20 289.96,114.67 292.85,112.09 295.83,109.44 298.89,106.75 302.02,104.02 305.22,101.25 308.47,98.45 311.78,95.63 315.13,92.80 318.51,89.96 321.92,87.11 325.34,84.28 328.76,81.46 332.18,78.66 335.59,75.89 338.97,73.16 342.32,70.46 345.63,67.82 348.88,65.24 352.08,62.71 355.21,60.25 358.27,57.87 361.25,55.56 364.14,53.33 366.94,51.18 369.65,49.13 372.25,47.16 374.75,45.28 377.15,43.50 379.44,41.82 381.62,40.22 383.69,38.73 385.65,37.33 387.50,36.03 389.24,34.84 390.88,33.73 392.41,32.72 393.84,31.80 395.18,30.95 396.42,30.19 397.56,29.49 398.62,28.87 399.60,28.31 400.49,27.80 401.31,27.35 402.06,26.95 402.75,26.60 403.37,26.28 403.93,26.01 404.43,25.77 404.89,25.55 405.30,25.37 405.67,25.21 406.00,25.07 406.29,24.95 406.55,24.85 406.78,24.76 406.98,24.69 407.16,24.62 407.32,24.57 407.46,24.52 407.58,24.48 407.68,24.45 407.77,24.42 407.85,24.40 407.92,24.38 407.98,24.37 408.03,24.35 408.07,24.34 408.11,24.34 408.14,24.33 408.16,24.32 408.19,24.32 408.21,24.31 408.22,24.31 408.24,24.31 408.25,24.31 408.26,24.31 408.26,24.30 408.27,24.30 408.28,24.30 408.28,24.30 408.28,24.30 408.29,24.30 408.29,24.30 408.29,24.30 408.29,24.30 408.29,24.30 408.30,24.30 408.30,24.30 408.30,24.30 408.30,24.30 408.30,24.30" fill="none" stroke="#e040e0" stroke-width="1.2" stroke-dasharray="1.15 3.45" stroke-linejoin="round"/>
<polyline points="245.80,156.30 245.80,156.30 245.80,156.30 245.80,156.30 245.80,156.30 245.81,156.30 245.81,156.30 245.81,156.30 245.81,156.30 245.81,156.30 245.82,156.29 245.82,156.29 245.82,156.29 245.83,156.29 245.84,156.29 245.84,156.28 245.85,156.28 245.86,156.27 245.88,156.26 245.89,156.25 245.91,156.24 245.94,156.23 245.96,156.21 245.99,156.19 246.03,156.17 246.07,156.14 246.12,156.11 246.18,156.07 246.25,156.02 246.33,155.96 246.42,155.90 246.52,155.82 246.64,155.73 246.78,155.62 246.94,155.49 247.12,155.35 247.32,155.18 247.55,154.99 247.81,154.76 248.10,154.51 248.43,154.22 248.80,153.89 249.21,153.52 249.67,153.10 250.17,152.63 250.73,152.10 251.35,151.51 252.04,150.86 252.79,150.13 253.61,149.33 254.50,148.45 255.48,147.48 256.54,146.42 257.68,145.27 258.92,144.04 260.26,142.71 261.69,141.29 263.22,139.77 264.86,138.17 266.60,136.47 268.45,134.67 270.41,132.79 272.48,130.81 274.66,128.75 276.95,126.59 279.35,124.36 281.85,122.05 284.45,119.66 287.16,117.20 289.96,114.67 292.85,112.09 295.83,109.44 298.89,106.75 302.02,104.02 305.22,101.25 308.47,98.45 311.78,95.63 315.13,92.80 318.51,89.96 321.92,87.11 325.34,84.28 328.76,81.46 332.18,78.66 335.59,75.89 338.97,73.16 342.32,70.46 345.63,67.82 348.88,65.24 352.08,62.71 355.21,60.25 358.27,57.87 361.25,55.56 364.14,53.33 366.94,51.18 369.65,49.13 372.25,47.16 374.75,45.28 377.15,43.50 379.44,41.82 381.62,40.22 383.69,38.73 385.65,37.33 387.50,36.03 389.24,34.84 390.88,33.73 392.41,32.72 393.84,31.80 395.18,30.95 396.42,30.19 397.56,29.49 398.62,28.87 399.60,28.31 400.49,27.80 401.31,27.35 402.06,26.95 402.75,26.60 403.37,26.28 403.93,26.01 404.43,25.77 404.89,25.55 405.30,25.37 405.67,25.21 406.00,25.07 406.29,24.95 406.55,24.85 406.78,24.76 406.98,24.69 407.16,24.62 407.32,24.57 407.46,24.52 407.58,24.48 407.68,24.45 407.77,24.42 407.85,24.40 407.92,24.38 407.98,24.37 408.03,24.35 408.07,24.34 408.11,24.34 408.14,24.33 408.16,24.32 408.19,24.32 408.21,24.31 408.22,24.31 408.24,24.31 408.25,24.31 408.26,24.31 408.26,24.30 408.27,24.30 408.28,24.30 408.28,24.30 408.28,24.30 408.29,24.30 408.29,24.30 408.29,24.30 408.29,24.30 408.29,24.30 408.30,24.30 408.30,24.30 408.30,24.30 408.30,24.30 408.30,24.30" fill="none" stroke="#ff0000" stroke-width="1.2" stroke-dasharray="4.60 4.60" stroke-linejoin="round"/>
<polyline points="245.80,156.30 245.80,155.78 245.80,155.69 245.80,155.59 245.80,155.47 245.81,155.34 245.81,155.19 245.81,155.02 245.81,154.82 245.81,154.60 245.82,154.36 245.82,154.08 245.82,153.77 245.83,153.43 245.84,153.04 245.84,152.62 245.85,152.14 245.86,151.62 245.88,151.05 245.89,150.42 245.91,149.73 245.94,148.98 245.96,148.17 245.99,147.28 246.03,146.32 246.07,145.28 246.12,144.17 246.18,142.98 246.25,141.70 246.33,140.33 246.42,138.88 246.52,137.34 246.64,135.71 246.78,133.99 246.94,132.18 247.12,130.28 247.32,128.30 247.55,126.23 247.81,124.07 248.10,121.84 248.43,119.52 248.80,117.14 249.21,114.68 249.67,112.17 250.17,109.59 250.73,106.96 251.35,104.29 252.04,101.58 252.79,98.84 253.61,96.07 254.50,93.29 255.48,90.50 256.54,87.72 257.68,85.00 258.92,82.33 260.26,79.72 261.69,77.18 263.22,74.71 264.86,72.31 266.60,69.98 268.45,67.73 270.41,65.54 272.48,63.43 274.66,61.39 276.95,59.43 279.35,57.53 281.85,55.71 284.45,53.95 287.16,52.26 289.96,50.64 292.85,49.08 295.83,47.59 298.89,46.15 302.02,44.78 305.22,43.47 308.47,42.21 311.78,41.01 315.13,39.87 318.51,38.77 321.92,37.73 325.34,36.74 328.76,35.80 332.18,34.91 335.59,34.06 338.97,33.26 342.32,32.51 345.63,31.79 348.88,31.12 352.08,30.49 355.21,29.90 358.27,29.36 361.25,28.84 364.14,28.37 366.94,27.93 369.65,27.52 372.25,27.15 374.75,26.81 377.15,26.50 379.44,26.22 381.62,25.97 383.69,25.76 385.65,25.56 387.50,25.39 389.24,25.24 390.88,25.11 392.41,25.00 393.84,24.90 395.18,24.81 396.42,24.73 397.56,24.67 398.62,24.61 399.60,24.56 400.49,24.52 401.31,24.49 402.06,24.46 402.75,24.43 403.37,24.41 403.93,24.39 404.43,24.37 404.89,24.36 405.30,24.35 405.67,24.34 406.00,24.33 406.29,24.33 406.55,24.32 406.78,24.32 406.98,24.32 407.16,24.31 407.32,24.31 407.46,24.31 407.58,24.31 407.68,24.31 407.77,24.30 407.85,24.30 407.92,24.30 407.98,24.30 408.03,24.30 408.07,24.30 408.11,24.30 408.14,24.30 408.16,24.30 408.19,24.30 408.21,24.30 408.22,24.30 408.24,24.30 408.25,24.30 408.26,24.30 408.26,24.30 408.27,24.30 408.28,24.30 408.28,24.30 408.28,24.30 408.29,24.30 408.29,24.30 408.29,24.30 408.29,24.30 408.29,24.30 408.30,24.30 408.30,24.30 408.30,24.30 408.30,24.30 408.30,24.30" fill="none" stroke="#ffa500" stroke-width="1.2" stroke-dasharray="8.05 3.45" stroke-linejoin="round"/>
<polyline points="245.80,156.30 245.80,156.04 245.80,155.99 245.80,155.94 245.80,155.87 245.80,155.80 245.81,155.72 245.81,155.62 245.81,155.51 245.81,155.38 245.81,155.23 245.81,155.07 245.82,154.88 245.82,154.67 245.82,154.43 245.82,154.17 245.83,153.87 245.83,153.53 245.84,153.16 245.85,152.74 245.86,152.29 245.86,151.78 245.87,151.22 245.89,150.61 245.90,149.94 245.92,149.21 245.94,148.41 245.96,147.54 245.98,146.60 246.01,145.59 246.04,144.50 246.07,143.33 246.11,142.07 246.16,140.73 246.21,139.30 246.26,137.79 246.33,136.18 246.40,134.48 246.48,132.70 246.57,130.83 246.67,128.63 246.78,126.14 246.90,123.61 247.04,121.03 247.19,118.42 247.36,115.79 247.54,113.16 247.74,110.54 247.97,107.93 248.21,105.35 248.48,102.80 248.78,100.29 249.10,97.84 249.45,95.43 249.84,93.09 250.25,90.81 250.70,88.61 251.19,86.58 251.72,84.71 252.28,82.94 252.90,81.19 253.56,79.40 254.26,77.51 255.02,75.45 255.83,73.25 256.69,70.99 257.61,68.76 258.58,66.64 259.62,64.69 260.72,62.97 261.88,61.45 263.11,60.02 264.40,58.59 265.76,57.08 267.19,55.50 268.69,53.94 270.26,52.49 271.90,51.20 273.61,50.06 275.38,49.00 277.23,47.93 279.15,46.80 281.13,45.63 283.18,44.47 285.30,43.35 287.48,42.27 289.72,41.21 292.01,40.23 294.37,39.34 296.77,38.52 299.23,37.75 301.73,37.02 304.28,36.34 306.86,35.68 309.48,35.07 312.13,34.48 314.81,33.93 317.51,33.41 320.22,32.91 322.95,32.43 325.68,31.96 328.42,31.52 331.15,31.10 333.88,30.70 336.59,30.31 339.29,29.95 341.97,29.60 344.62,29.28 347.24,28.97 349.82,28.67 352.37,28.39 354.87,28.13 357.33,27.88 359.73,27.65 362.09,27.43 364.38,27.22 366.62,27.02 368.80,26.84 370.92,26.66 372.97,26.50 374.95,26.34 376.87,26.20 378.72,26.06 380.49,25.94 382.20,25.82 383.84,25.70 385.41,25.60 386.91,25.50 388.34,25.41 389.70,25.33 390.99,25.25 392.22,25.17 393.38,25.10 394.48,25.04 395.52,24.98 396.49,24.93 397.41,24.87 398.27,24.83 399.08,24.78 399.84,24.74 400.54,24.71 401.20,24.67 401.82,24.64 402.38,24.61 402.91,24.58 403.40,24.56 403.85,24.53 404.26,24.51 404.65,24.49 405.00,24.48 405.32,24.46 405.62,24.45 405.89,24.43 406.13,24.42 406.36,24.41 406.56,24.40 406.74,24.39 406.91,24.38 407.06,24.37 407.20,24.37 407.32,24.36 407.43,24.35 407.53,24.35 407.62,24.34 407.70,24.34 407.77,24.33 407.84,24.33 407.89,24.33 407.94,24.32 407.99,24.32 408.03,24.32 408.06,24.32 408.09,24.32 408.12,24.31 408.14,24.31 408.16,24.31 408.18,24.31 408.20,24.31 408.21,24.31 408.23,24.31 408.24,24.31 408.24,24.31 408.25,24.30 408.26,24.30 408.27,24.30 408.27,24.30 408.28,24.30 408.28,24.30 408.28,24.30 408.28,24.30 408.29,24.30 408.29,24.30 408.29,24.30 408.29,24.30 408.29,24.30 408.29,24.30 408.30,24.30 408.30,24.30 408.30,24.30 408.30,24.30 408.30,24.30 408.30,24.30" fill="none" stroke="#000000" stroke-width="1.2" stroke-linejoin="round"/>
<text xml:space="preserve" x="327.05" y="11.90" font-size="7.9" font-weight="bold" text-anchor="middle" fill="#111">50 % up  0 % down</text>
<text x="241.30" y="13.90" font-size="6.3" fill="#333">b)</text>
<line x1="448.80" y1="156.30" x2="448.80" y2="24.30" stroke="#444" stroke-width="0.9"/>
<line x1="444.80" y1="156.30" x2="448.80" y2="156.30" stroke="#444" stroke-width="0.9"/>
<text x="0" y="0" transform="translate(439.60,156.30) rotate(-90)" font-size="6.1" text-anchor="middle" fill="#111" stroke="#111" stroke-width="0.12">0</text>
<line x1="444.80" y1="129.90" x2="448.80" y2="129.90" stroke="#444" stroke-width="0.9"/>
<text x="0" y="0" transform="translate(439.60,129.90) rotate(-90)" font-size="6.1" text-anchor="middle" fill="#111" stroke="#111" stroke-width="0.12">0.2</text>
<line x1="444.80" y1="103.50" x2="448.80" y2="103.50" stroke="#444" stroke-width="0.9"/>
<text x="0" y="0" transform="translate(439.60,103.50) rotate(-90)" font-size="6.1" text-anchor="middle" fill="#111" stroke="#111" stroke-width="0.12">0.4</text>
<line x1="444.80" y1="77.10" x2="448.80" y2="77.10" stroke="#444" stroke-width="0.9"/>
<text x="0" y="0" transform="translate(439.60,77.10) rotate(-90)" font-size="6.1" text-anchor="middle" fill="#111" stroke="#111" stroke-width="0.12">0.6</text>
<line x1="444.80" y1="50.70" x2="448.80" y2="50.70" stroke="#444" stroke-width="0.9"/>
<text x="0" y="0" transform="translate(439.60,50.70) rotate(-90)" font-size="6.1" text-anchor="middle" fill="#111" stroke="#111" stroke-width="0.12">0.8</text>
<line x1="444.80" y1="24.30" x2="448.80" y2="24.30" stroke="#444" stroke-width="0.9"/>
<text x="0" y="0" transform="translate(439.60,24.30) rotate(-90)" font-size="6.1" text-anchor="middle" fill="#111" stroke="#111" stroke-width="0.12">1</text>
<line x1="455.30" y1="161.58" x2="617.80" y2="161.58" stroke="#444" stroke-width="0.9"/>
<line x1="455.30" y1="161.58" x2="455.30" y2="165.58" stroke="#444" stroke-width="0.9"/>
<text x="455.30" y="175.33" font-size="6.35" text-anchor="middle" fill="#111" stroke="#111" stroke-width="0.12">0</text>
<line x1="487.80" y1="161.58" x2="487.80" y2="165.58" stroke="#444" stroke-width="0.9"/>
<text x="487.80" y="175.33" font-size="6.35" text-anchor="middle" fill="#111" stroke="#111" stroke-width="0.12">0.2</text>
<line x1="520.30" y1="161.58" x2="520.30" y2="165.58" stroke="#444" stroke-width="0.9"/>
<text x="520.30" y="175.33" font-size="6.35" text-anchor="middle" fill="#111" stroke="#111" stroke-width="0.12">0.4</text>
<line x1="552.80" y1="161.58" x2="552.80" y2="165.58" stroke="#444" stroke-width="0.9"/>
<text x="552.80" y="175.33" font-size="6.35" text-anchor="middle" fill="#111" stroke="#111" stroke-width="0.12">0.6</text>
<line x1="585.30" y1="161.58" x2="585.30" y2="165.58" stroke="#444" stroke-width="0.9"/>
<text x="585.30" y="175.33" font-size="6.35" text-anchor="middle" fill="#111" stroke="#111" stroke-width="0.12">0.8</text>
<line x1="617.80" y1="161.58" x2="617.80" y2="165.58" stroke="#444" stroke-width="0.9"/>
<text x="617.80" y="175.33" font-size="6.35" text-anchor="middle" fill="#111" stroke="#111" stroke-width="0.12">1</text>
<line x1="455.30" y1="156.30" x2="617.80" y2="24.30" stroke="#333" stroke-width="0.95" stroke-dasharray="3.2 3.2"/>
<polyline points="455.30,156.30 455.30,156.30 455.30,156.30 455.30,156.30 455.30,156.30 455.31,156.30 455.31,156.30 455.31,156.30 455.31,156.30 455.31,156.30 455.32,156.30 455.32,156.30 455.32,156.30 455.33,156.30 455.34,156.30 455.34,156.30 455.35,156.30 455.36,156.30 455.38,156.30 455.39,156.29 455.41,156.29 455.44,156.29 455.46,156.29 455.49,156.29 455.53,156.29 455.57,156.28 455.62,156.28 455.68,156.27 455.75,156.27 455.83,156.26 455.92,156.25 456.02,156.24 456.14,156.23 456.28,156.22 456.44,156.20 456.62,156.18 456.82,156.16 457.05,156.13 457.31,156.10 457.60,156.06 457.93,156.02 458.30,155.97 458.71,155.91 459.17,155.84 459.67,155.77 460.23,155.68 460.85,155.58 461.54,155.46 462.29,155.33 463.11,155.19 464.00,155.02 464.98,154.83 466.04,154.61 467.18,154.37 468.42,154.10 469.76,153.80 471.19,153.47 472.72,153.09 474.36,152.68 476.10,152.23 477.95,151.73 479.91,151.18 481.98,150.58 484.16,149.92 486.45,149.21 488.85,148.43 491.35,147.59 493.95,146.68 496.66,145.69 499.46,144.63 502.35,143.50 505.33,142.28 508.39,140.97 511.52,139.58 514.72,138.10 517.97,136.52 521.28,134.86 524.63,133.09 528.01,131.24 531.42,129.28 534.84,127.23 538.26,125.08 541.68,122.83 545.09,120.49 548.47,118.06 551.82,115.54 555.13,112.93 558.38,110.25 561.58,107.48 564.71,104.65 567.77,101.75 570.75,98.79 573.64,95.79 576.44,92.74 579.15,89.67 581.75,86.57 584.25,83.46 586.65,80.35 588.94,77.24 591.12,74.16 593.19,71.11 595.15,68.10 597.00,65.15 598.74,62.26 600.38,59.45 601.91,56.72 603.34,54.08 604.68,51.55 605.92,49.12 607.06,46.81 608.12,44.62 609.10,42.56 609.99,40.62 610.81,38.83 611.56,37.19 612.25,35.69 612.87,34.32 613.43,33.08 613.93,31.96 614.39,30.96 614.80,30.06 615.17,29.27 615.50,28.57 615.79,27.95 616.05,27.40 616.28,26.93 616.48,26.52 616.66,26.17 616.82,25.86 616.96,25.60 617.08,25.38 617.18,25.19 617.27,25.03 617.35,24.90 617.42,24.79 617.48,24.70 617.53,24.62 617.57,24.56 617.61,24.51 617.64,24.47 617.66,24.43 617.69,24.40 617.71,24.38 617.72,24.36 617.74,24.35 617.75,24.34 617.76,24.33 617.76,24.32 617.77,24.32 617.78,24.31 617.78,24.31 617.78,24.31 617.79,24.31 617.79,24.30 617.79,24.30 617.79,24.30 617.79,24.30 617.80,24.30 617.80,24.30 617.80,24.30 617.80,24.30 617.80,24.30" fill="none" stroke="#a52a2a" stroke-width="1.2" stroke-linejoin="round"/>
<polyline points="455.30,156.30 455.30,156.30 455.30,156.30 455.30,156.30 455.30,156.30 455.31,156.30 455.31,156.30 455.31,156.30 455.31,156.29 455.31,156.29 455.32,156.29 455.32,156.29 455.32,156.29 455.33,156.29 455.34,156.28 455.34,156.28 455.35,156.27 455.36,156.27 455.38,156.26 455.39,156.26 455.41,156.25 455.44,156.24 455.46,156.23 455.49,156.21 455.53,156.20 455.57,156.18 455.62,156.16 455.68,156.14 455.75,156.11 455.83,156.08 455.92,156.04 456.02,156.00 456.14,155.95 456.28,155.89 456.44,155.83 456.62,155.75 456.82,155.67 457.05,155.58 457.31,155.47 457.60,155.35 457.93,155.22 458.30,155.07 458.71,154.90 459.17,154.71 459.67,154.50 460.23,154.27 460.85,154.01 461.54,153.72 462.29,153.41 463.11,153.06 464.00,152.68 464.98,152.26 466.04,151.80 467.18,151.29 468.42,150.74 469.76,150.14 471.19,149.48 472.72,148.77 474.36,147.99 476.10,147.15 477.95,146.23 479.91,145.25 481.98,144.19 484.16,143.05 486.45,141.82 488.85,140.51 491.35,139.12 493.95,137.63 496.66,136.04 499.46,134.37 502.35,132.59 505.33,130.72 508.39,128.75 511.52,126.69 514.72,124.53 517.97,122.27 521.28,119.92 524.63,117.48 528.01,114.96 531.42,112.35 534.84,109.67 538.26,106.92 541.68,104.11 545.09,101.23 548.47,98.31 551.82,95.35 555.13,92.36 558.38,89.35 561.58,86.32 564.71,83.30 567.77,80.28 570.75,77.28 573.64,74.31 576.44,71.37 579.15,68.49 581.75,65.66 584.25,62.91 586.65,60.22 588.94,57.63 591.12,55.12 593.19,52.70 595.15,50.40 597.00,48.19 598.74,46.10 600.38,44.12 601.91,42.26 603.34,40.51 604.68,38.87 605.92,37.35 607.06,35.95 608.12,34.65 609.10,33.46 609.99,32.37 610.81,31.39 611.56,30.50 612.25,29.70 612.87,28.99 613.43,28.35 613.93,27.79 614.39,27.30 614.80,26.86 615.17,26.48 615.50,26.15 615.79,25.87 616.05,25.62 616.28,25.41 616.48,25.22 616.66,25.07 616.82,24.94 616.96,24.83 617.08,24.73 617.18,24.66 617.27,24.59 617.35,24.54 617.42,24.49 617.48,24.45 617.53,24.42 617.57,24.40 617.61,24.38 617.64,24.36 617.66,24.35 617.69,24.34 617.71,24.33 617.72,24.32 617.74,24.32 617.75,24.31 617.76,24.31 617.76,24.31 617.77,24.31 617.78,24.31 617.78,24.30 617.78,24.30 617.79,24.30 617.79,24.30 617.79,24.30 617.79,24.30 617.79,24.30 617.80,24.30 617.80,24.30 617.80,24.30 617.80,24.30 617.80,24.30" fill="none" stroke="#00e000" stroke-width="1.2" stroke-dasharray="2.30 2.30 6.90 2.30" stroke-linejoin="round"/>
<polyline points="455.30,156.30 455.30,156.30 455.30,156.30 455.30,156.30 455.30,156.30 455.31,156.30 455.31,156.30 455.31,156.30 455.31,156.30 455.31,156.30 455.32,156.30 455.32,156.30 455.32,156.30 455.33,156.30 455.34,156.30 455.34,156.30 455.35,156.30 455.36,156.30 455.38,156.30 455.39,156.29 455.41,156.29 455.44,156.29 455.46,156.29 455.49,156.29 455.53,156.29 455.57,156.28 455.62,156.28 455.68,156.27 455.75,156.27 455.83,156.26 455.92,156.25 456.02,156.24 456.14,156.23 456.28,156.22 456.44,156.20 456.62,156.18 456.82,156.16 457.05,156.13 457.31,156.10 457.60,156.06 457.93,156.02 458.30,155.97 458.71,155.91 459.17,155.84 459.67,155.77 460.23,155.68 460.85,155.58 461.54,155.46 462.29,155.33 463.11,155.19 464.00,155.02 464.98,154.83 466.04,154.61 467.18,154.37 468.42,154.10 469.76,153.80 471.19,153.47 472.72,153.09 474.36,152.68 476.10,152.23 477.95,151.73 479.91,151.18 481.98,150.58 484.16,149.92 486.45,149.21 488.85,148.43 491.35,147.59 493.95,146.68 496.66,145.69 499.46,144.63 502.35,143.50 505.33,142.28 508.39,140.97 511.52,139.58 514.72,138.10 517.97,136.52 521.28,134.86 524.63,133.09 528.01,131.24 531.42,129.28 534.84,127.23 538.26,125.08 541.68,122.83 545.09,120.49 548.47,118.06 551.82,115.54 555.13,112.93 558.38,110.25 561.58,107.48 564.71,104.65 567.77,101.75 570.75,98.79 573.64,95.79 576.44,92.74 579.15,89.67 581.75,86.57 584.25,83.46 586.65,80.35 588.94,77.24 591.12,74.16 593.19,71.11 595.15,68.10 597.00,65.15 598.74,62.26 600.38,59.45 601.91,56.72 603.34,54.08 604.68,51.55 605.92,49.12 607.06,46.81 608.12,44.62 609.10,42.56 609.99,40.62 610.81,38.83 611.56,37.19 612.25,35.69 612.87,34.32 613.43,33.08 613.93,31.96 614.39,30.96 614.80,30.06 615.17,29.27 615.50,28.57 615.79,27.95 616.05,27.40 616.28,26.93 616.48,26.52 616.66,26.17 616.82,25.86 616.96,25.60 617.08,25.38 617.18,25.19 617.27,25.03 617.35,24.90 617.42,24.79 617.48,24.70 617.53,24.62 617.57,24.56 617.61,24.51 617.64,24.47 617.66,24.43 617.69,24.40 617.71,24.38 617.72,24.36 617.74,24.35 617.75,24.34 617.76,24.33 617.76,24.32 617.77,24.32 617.78,24.31 617.78,24.31 617.78,24.31 617.79,24.31 617.79,24.30 617.79,24.30 617.79,24.30 617.79,24.30 617.80,24.30 617.80,24.30 617.80,24.30 617.80,24.30 617.80,24.30" fill="none" stroke="#0000ff" stroke-width="1.2" stroke-dasharray="1.15 3.45 4.60 3.45" stroke-linejoin="round"/>
<polyline points="455.30,156.30 455.30,156.30 455.30,156.30 455.30,156.30 455.30,156.30 455.31,156.30 455.31,156.30 455.31,156.30 455.31,156.30 455.31,156.30 455.32,156.30 455.32,156.30 455.32,156.30 455.33,156.30 455.34,156.30 455.34,156.29 455.35,156.29 455.36,156.29 455.38,156.29 455.39,156.29 455.41,156.28 455.44,156.28 455.46,156.28 455.49,156.27 455.53,156.27 455.57,156.26 455.62,156.25 455.68,156.24 455.75,156.23 455.83,156.22 455.92,156.20 456.02,156.18 456.14,156.16 456.28,156.14 456.44,156.11 456.62,156.08 456.82,156.04 457.05,156.00 457.31,155.95 457.60,155.89 457.93,155.82 458.30,155.75 458.71,155.66 459.17,155.57 459.67,155.46 460.23,155.33 460.85,155.20 461.54,155.04 462.29,154.86 463.11,154.66 464.00,154.44 464.98,154.20 466.04,153.93 467.18,153.62 468.42,153.29 469.76,152.92 471.19,152.52 472.72,152.07 474.36,151.58 476.10,151.05 477.95,150.46 479.91,149.82 481.98,149.13 484.16,148.38 486.45,147.56 488.85,146.68 491.35,145.73 493.95,144.71 496.66,143.61 499.46,142.43 502.35,141.18 505.33,139.84 508.39,138.41 511.52,136.90 514.72,135.30 517.97,133.60 521.28,131.82 524.63,129.95 528.01,127.98 531.42,125.92 534.84,123.78 538.26,121.54 541.68,119.22 545.09,116.82 548.47,114.33 551.82,111.78 555.13,109.15 558.38,106.45 561.58,103.70 564.71,100.90 567.77,98.05 570.75,95.16 573.64,92.25 576.44,89.31 579.15,86.36 581.75,83.41 584.25,80.46 586.65,77.53 588.94,74.62 591.12,71.75 593.19,68.92 595.15,66.15 597.00,63.43 598.74,60.78 600.38,58.21 601.91,55.72 603.34,53.32 604.68,51.02 605.92,48.82 607.06,46.72 608.12,44.73 609.10,42.84 609.99,41.07 610.81,39.42 611.56,37.88 612.25,36.47 612.87,35.16 613.43,33.97 613.93,32.87 614.39,31.88 614.80,30.98 615.17,30.16 615.50,29.43 615.79,28.78 616.05,28.19 616.28,27.67 616.48,27.21 616.66,26.80 616.82,26.45 616.96,26.13 617.08,25.86 617.18,25.62 617.27,25.42 617.35,25.24 617.42,25.09 617.48,24.96 617.53,24.85 617.57,24.76 617.61,24.68 617.64,24.61 617.66,24.56 617.69,24.51 617.71,24.47 617.72,24.44 617.74,24.41 617.75,24.39 617.76,24.37 617.76,24.36 617.77,24.35 617.78,24.34 617.78,24.33 617.78,24.32 617.79,24.32 617.79,24.31 617.79,24.31 617.79,24.31 617.79,24.31 617.80,24.31 617.80,24.30 617.80,24.30 617.80,24.30 617.80,24.30" fill="none" stroke="#e040e0" stroke-width="1.2" stroke-dasharray="1.15 3.45" stroke-linejoin="round"/>
<polyline points="455.30,156.30 455.30,156.30 455.30,156.30 455.30,156.30 455.30,156.30 455.31,156.30 455.31,156.30 455.31,156.30 455.31,156.30 455.31,156.30 455.32,156.30 455.32,156.30 455.32,156.30 455.33,156.30 455.34,156.30 455.34,156.29 455.35,156.29 455.36,156.29 455.38,156.29 455.39,156.29 455.41,156.28 455.44,156.28 455.46,156.27 455.49,156.27 455.53,156.26 455.57,156.25 455.62,156.24 455.68,156.23 455.75,156.22 455.83,156.20 455.92,156.18 456.02,156.16 456.14,156.13 456.28,156.10 456.44,156.06 456.62,156.02 456.82,155.97 457.05,155.91 457.31,155.84 457.60,155.77 457.93,155.68 458.30,155.58 458.71,155.46 459.17,155.33 459.67,155.18 460.23,155.00 460.85,154.81 461.54,154.59 462.29,154.35 463.11,154.07 464.00,153.76 464.98,153.42 466.04,153.04 467.18,152.61 468.42,152.14 469.76,151.63 471.19,151.06 472.72,150.44 474.36,149.75 476.10,149.01 477.95,148.20 479.91,147.32 481.98,146.37 484.16,145.35 486.45,144.23 488.85,143.04 491.35,141.75 493.95,140.38 496.66,138.90 499.46,137.34 502.35,135.67 505.33,133.90 508.39,132.03 511.52,130.05 514.72,127.98 517.97,125.80 521.28,123.53 524.63,121.15 528.01,118.69 531.42,116.13 534.84,113.48 538.26,110.76 541.68,107.96 545.09,105.09 548.47,102.16 551.82,99.18 555.13,96.16 558.38,93.10 561.58,90.02 564.71,86.93 567.77,83.83 570.75,80.74 573.64,77.67 576.44,74.63 579.15,71.63 581.75,68.68 584.25,65.79 586.65,62.97 588.94,60.23 591.12,57.58 593.19,55.02 595.15,52.56 597.00,50.20 598.74,47.96 600.38,45.84 601.91,43.83 603.34,41.94 604.68,40.17 605.92,38.53 607.06,37.00 608.12,35.59 609.10,34.29 609.99,33.10 610.81,32.03 611.56,31.06 612.25,30.19 612.87,29.41 613.43,28.72 613.93,28.11 614.39,27.56 614.80,27.09 615.17,26.68 615.50,26.31 615.79,26.00 616.05,25.73 616.28,25.50 616.48,25.30 616.66,25.13 616.82,24.99 616.96,24.87 617.08,24.77 617.18,24.68 617.27,24.61 617.35,24.55 617.42,24.50 617.48,24.46 617.53,24.43 617.57,24.41 617.61,24.38 617.64,24.37 617.66,24.35 617.69,24.34 617.71,24.33 617.72,24.33 617.74,24.32 617.75,24.32 617.76,24.31 617.76,24.31 617.77,24.31 617.78,24.31 617.78,24.30 617.78,24.30 617.79,24.30 617.79,24.30 617.79,24.30 617.79,24.30 617.79,24.30 617.80,24.30 617.80,24.30 617.80,24.30 617.80,24.30 617.80,24.30" fill="none" stroke="#ff0000" stroke-width="1.2" stroke-dasharray="4.60 4.60" stroke-linejoin="round"/>
<polyline points="455.30,156.30 455.30,156.30 455.30,156.30 455.30,156.30 455.30,156.30 455.31,156.29 455.31,156.29 455.31,156.29 455.31,156.29 455.31,156.28 455.32,156.28 455.32,156.27 455.32,156.26 455.33,156.25 455.34,156.23 455.34,156.21 455.35,156.19 455.36,156.16 455.38,156.13 455.39,156.08 455.41,156.03 455.44,155.97 455.46,155.89 455.49,155.80 455.53,155.68 455.57,155.55 455.62,155.39 455.68,155.20 455.75,154.97 455.83,154.71 455.92,154.40 456.02,154.05 456.14,153.64 456.28,153.16 456.44,152.62 456.62,152.00 456.82,151.30 457.05,150.50 457.31,149.61 457.60,148.61 457.93,147.50 458.30,146.27 458.71,144.91 459.17,143.44 459.67,141.86 460.23,140.15 460.85,138.33 461.54,136.40 462.29,134.35 463.11,132.20 464.00,129.94 464.98,127.59 466.04,125.14 467.18,122.61 468.42,120.00 469.76,117.33 471.19,114.59 472.72,111.81 474.36,108.98 476.10,106.12 477.95,103.23 479.91,100.34 481.98,97.43 484.16,94.54 486.45,91.65 488.85,88.79 491.35,85.95 493.95,83.15 496.66,80.40 499.46,77.69 502.35,75.04 505.33,72.45 508.39,69.92 511.52,67.47 514.72,65.08 517.97,62.77 521.28,60.54 524.63,58.39 528.01,56.32 531.42,54.34 534.84,52.43 538.26,50.61 541.68,48.87 545.09,47.22 548.47,45.64 551.82,44.14 555.13,42.72 558.38,41.38 561.58,40.12 564.71,38.92 567.77,37.80 570.75,36.74 573.64,35.75 576.44,34.82 579.15,33.94 581.75,33.13 584.25,32.36 586.65,31.66 588.94,31.00 591.12,30.38 593.19,29.82 595.15,29.30 597.00,28.82 598.74,28.37 600.38,27.97 601.91,27.59 603.34,27.26 604.68,26.95 605.92,26.66 607.06,26.41 608.12,26.18 609.10,25.97 609.99,25.78 610.81,25.61 611.56,25.46 612.25,25.32 612.87,25.20 613.43,25.09 613.93,24.99 614.39,24.90 614.80,24.83 615.17,24.76 615.50,24.70 615.79,24.65 616.05,24.60 616.28,24.56 616.48,24.52 616.66,24.49 616.82,24.47 616.96,24.44 617.08,24.42 617.18,24.40 617.27,24.39 617.35,24.38 617.42,24.36 617.48,24.35 617.53,24.35 617.57,24.34 617.61,24.33 617.64,24.33 617.66,24.32 617.69,24.32 617.71,24.32 617.72,24.31 617.74,24.31 617.75,24.31 617.76,24.31 617.76,24.31 617.77,24.31 617.78,24.30 617.78,24.30 617.78,24.30 617.79,24.30 617.79,24.30 617.79,24.30 617.79,24.30 617.79,24.30 617.80,24.30 617.80,24.30 617.80,24.30 617.80,24.30 617.80,24.30" fill="none" stroke="#ffa500" stroke-width="1.2" stroke-dasharray="8.05 3.45" stroke-linejoin="round"/>
<polyline points="455.30,156.30 455.30,156.30 455.30,156.30 455.30,156.30 455.30,156.30 455.30,156.30 455.31,156.30 455.31,156.30 455.31,156.30 455.31,156.29 455.31,156.29 455.31,156.29 455.32,156.29 455.32,156.28 455.32,156.27 455.32,156.26 455.33,156.25 455.33,156.23 455.34,156.21 455.35,156.18 455.36,156.15 455.36,156.10 455.37,156.04 455.39,155.96 455.40,155.86 455.42,155.73 455.44,155.58 455.46,155.39 455.48,155.15 455.51,154.87 455.54,154.52 455.57,154.11 455.61,153.61 455.66,153.03 455.71,152.34 455.76,151.53 455.83,150.59 455.90,149.51 455.98,148.28 456.07,146.87 456.17,145.07 456.28,142.87 456.40,140.45 456.54,137.82 456.69,135.02 456.86,132.07 457.04,128.99 457.24,125.83 457.47,122.60 457.71,119.36 457.98,116.12 458.28,112.92 458.60,109.78 458.95,106.77 459.34,104.01 459.75,101.42 460.20,98.93 460.69,96.46 461.22,93.93 461.78,91.25 462.40,88.32 463.06,85.09 463.76,81.73 464.52,78.46 465.33,75.50 466.19,73.00 467.11,70.73 468.08,68.66 469.12,66.81 470.22,65.18 471.38,63.81 472.61,62.70 473.90,61.69 475.26,60.66 476.69,59.49 478.19,58.10 479.76,56.55 481.40,54.86 483.11,53.05 484.88,50.90 486.73,48.58 488.65,47.17 490.63,46.18 492.68,45.37 494.80,44.60 496.98,43.77 499.22,42.96 501.51,42.18 503.87,41.44 506.27,40.73 508.73,40.07 511.23,39.47 513.78,38.91 516.36,38.35 518.98,37.80 521.63,37.22 524.31,36.61 527.01,35.94 529.72,35.24 532.45,34.54 535.18,33.86 537.92,33.23 540.65,32.63 543.38,32.06 546.09,31.51 548.79,30.99 551.47,30.50 554.12,30.04 556.74,29.59 559.32,29.18 561.87,28.78 564.37,28.41 566.83,28.07 569.23,27.74 571.59,27.44 573.88,27.17 576.12,26.92 578.30,26.69 580.42,26.48 582.47,26.29 584.45,26.11 586.37,25.94 588.22,25.79 589.99,25.65 591.70,25.52 593.34,25.40 594.91,25.29 596.41,25.20 597.84,25.11 599.20,25.02 600.49,24.95 601.72,24.88 602.88,24.82 603.98,24.77 605.02,24.72 605.99,24.67 606.91,24.63 607.77,24.59 608.58,24.56 609.34,24.53 610.04,24.51 610.70,24.48 611.32,24.46 611.88,24.44 612.41,24.43 612.90,24.41 613.35,24.40 613.76,24.39 614.15,24.37 614.50,24.37 614.82,24.36 615.12,24.35 615.39,24.34 615.63,24.34 615.86,24.33 616.06,24.33 616.24,24.32 616.41,24.32 616.56,24.32 616.70,24.32 616.82,24.31 616.93,24.31 617.03,24.31 617.12,24.31 617.20,24.31 617.27,24.31 617.34,24.31 617.39,24.30 617.44,24.30 617.49,24.30 617.53,24.30 617.56,24.30 617.59,24.30 617.62,24.30 617.64,24.30 617.66,24.30 617.68,24.30 617.70,24.30 617.71,24.30 617.73,24.30 617.74,24.30 617.74,24.30 617.75,24.30 617.76,24.30 617.77,24.30 617.77,24.30 617.78,24.30 617.78,24.30 617.78,24.30 617.78,24.30 617.79,24.30 617.79,24.30 617.79,24.30 617.79,24.30 617.79,24.30 617.79,24.30 617.80,24.30 617.80,24.30 617.80,24.30 617.80,24.30 617.80,24.30 617.80,24.30" fill="none" stroke="#000000" stroke-width="1.2" stroke-linejoin="round"/>
<text xml:space="preserve" x="536.55" y="11.90" font-size="7.9" font-weight="bold" text-anchor="middle" fill="#111">60 % up  0 % down</text>
<text x="448.60" y="13.90" font-size="6.3" fill="#333">c)</text>
<line x1="30.10" y1="348.40" x2="30.10" y2="216.40" stroke="#444" stroke-width="0.9"/>
<line x1="26.10" y1="348.40" x2="30.10" y2="348.40" stroke="#444" stroke-width="0.9"/>
<text x="0" y="0" transform="translate(20.90,348.40) rotate(-90)" font-size="6.1" text-anchor="middle" fill="#111" stroke="#111" stroke-width="0.12">0</text>
<line x1="26.10" y1="322.00" x2="30.10" y2="322.00" stroke="#444" stroke-width="0.9"/>
<text x="0" y="0" transform="translate(20.90,322.00) rotate(-90)" font-size="6.1" text-anchor="middle" fill="#111" stroke="#111" stroke-width="0.12">0.2</text>
<line x1="26.10" y1="295.60" x2="30.10" y2="295.60" stroke="#444" stroke-width="0.9"/>
<text x="0" y="0" transform="translate(20.90,295.60) rotate(-90)" font-size="6.1" text-anchor="middle" fill="#111" stroke="#111" stroke-width="0.12">0.4</text>
<line x1="26.10" y1="269.20" x2="30.10" y2="269.20" stroke="#444" stroke-width="0.9"/>
<text x="0" y="0" transform="translate(20.90,269.20) rotate(-90)" font-size="6.1" text-anchor="middle" fill="#111" stroke="#111" stroke-width="0.12">0.6</text>
<line x1="26.10" y1="242.80" x2="30.10" y2="242.80" stroke="#444" stroke-width="0.9"/>
<text x="0" y="0" transform="translate(20.90,242.80) rotate(-90)" font-size="6.1" text-anchor="middle" fill="#111" stroke="#111" stroke-width="0.12">0.8</text>
<line x1="26.10" y1="216.40" x2="30.10" y2="216.40" stroke="#444" stroke-width="0.9"/>
<text x="0" y="0" transform="translate(20.90,216.40) rotate(-90)" font-size="6.1" text-anchor="middle" fill="#111" stroke="#111" stroke-width="0.12">1</text>
<line x1="36.60" y1="353.68" x2="199.10" y2="353.68" stroke="#444" stroke-width="0.9"/>
<line x1="36.60" y1="353.68" x2="36.60" y2="357.68" stroke="#444" stroke-width="0.9"/>
<text x="36.60" y="367.43" font-size="6.35" text-anchor="middle" fill="#111" stroke="#111" stroke-width="0.12">0</text>
<line x1="69.10" y1="353.68" x2="69.10" y2="357.68" stroke="#444" stroke-width="0.9"/>
<text x="69.10" y="367.43" font-size="6.35" text-anchor="middle" fill="#111" stroke="#111" stroke-width="0.12">0.2</text>
<line x1="101.60" y1="353.68" x2="101.60" y2="357.68" stroke="#444" stroke-width="0.9"/>
<text x="101.60" y="367.43" font-size="6.35" text-anchor="middle" fill="#111" stroke="#111" stroke-width="0.12">0.4</text>
<line x1="134.10" y1="353.68" x2="134.10" y2="357.68" stroke="#444" stroke-width="0.9"/>
<text x="134.10" y="367.43" font-size="6.35" text-anchor="middle" fill="#111" stroke="#111" stroke-width="0.12">0.6</text>
<line x1="166.60" y1="353.68" x2="166.60" y2="357.68" stroke="#444" stroke-width="0.9"/>
<text x="166.60" y="367.43" font-size="6.35" text-anchor="middle" fill="#111" stroke="#111" stroke-width="0.12">0.8</text>
<line x1="199.10" y1="353.68" x2="199.10" y2="357.68" stroke="#444" stroke-width="0.9"/>
<text x="199.10" y="367.43" font-size="6.35" text-anchor="middle" fill="#111" stroke="#111" stroke-width="0.12">1</text>
<line x1="36.60" y1="348.40" x2="199.10" y2="216.40" stroke="#333" stroke-width="0.95" stroke-dasharray="3.2 3.2"/>
<polyline points="36.60,348.40 36.60,348.40 36.60,348.40 36.60,348.40 36.60,348.40 36.61,348.40 36.61,348.40 36.61,348.39 36.61,348.39 36.61,348.39 36.62,348.39 36.62,348.39 36.62,348.38 36.63,348.38 36.64,348.37 36.64,348.36 36.65,348.35 36.66,348.34 36.68,348.33 36.69,348.31 36.71,348.28 36.74,348.26 36.76,348.22 36.79,348.18 36.83,348.14 36.87,348.08 36.92,348.01 36.98,347.93 37.05,347.83 37.13,347.72 37.22,347.58 37.32,347.42 37.44,347.24 37.58,347.03 37.74,346.78 37.92,346.50 38.12,346.17 38.35,345.80 38.61,345.38 38.90,344.90 39.23,344.36 39.60,343.75 40.01,343.06 40.47,342.30 40.97,341.46 41.53,340.52 42.15,339.48 42.84,338.35 43.59,337.11 44.41,335.75 45.30,334.28 46.28,332.71 47.34,331.04 48.48,329.28 49.72,327.43 51.06,325.49 52.49,323.46 54.02,321.36 55.66,319.18 57.40,316.94 59.25,314.62 61.21,312.25 63.28,309.83 65.46,307.37 67.75,304.86 70.15,302.32 72.65,299.76 75.25,297.17 77.96,294.58 80.76,291.97 83.65,289.36 86.63,286.75 89.69,284.16 92.82,281.58 96.02,279.01 99.27,276.48 102.58,273.97 105.93,271.49 109.31,269.05 112.72,266.65 116.14,264.29 119.56,261.99 122.98,259.73 126.39,257.52 129.77,255.37 133.12,253.27 136.43,251.24 139.68,249.26 142.88,247.34 146.01,245.49 149.07,243.70 152.05,241.98 154.94,240.32 157.74,238.73 160.45,237.20 163.05,235.74 165.55,234.34 167.95,233.01 170.24,231.74 172.42,230.54 174.49,229.40 176.45,228.33 178.30,227.31 180.04,226.35 181.68,225.46 183.21,224.63 184.64,223.86 185.98,223.14 187.22,222.48 188.36,221.88 189.42,221.32 190.40,220.82 191.29,220.35 192.11,219.93 192.86,219.54 193.55,219.19 194.17,218.88 194.73,218.59 195.23,218.34 195.69,218.11 196.10,217.90 196.47,217.72 196.80,217.55 197.09,217.41 197.35,217.28 197.58,217.16 197.78,217.06 197.96,216.97 198.12,216.90 198.26,216.83 198.38,216.77 198.48,216.72 198.57,216.67 198.65,216.63 198.72,216.60 198.78,216.57 198.83,216.54 198.87,216.52 198.91,216.50 198.94,216.49 198.96,216.47 198.99,216.46 199.01,216.45 199.02,216.44 199.04,216.44 199.05,216.43 199.06,216.42 199.06,216.42 199.07,216.42 199.08,216.41 199.08,216.41 199.08,216.41 199.09,216.41 199.09,216.41 199.09,216.40 199.09,216.40 199.09,216.40 199.10,216.40 199.10,216.40 199.10,216.40 199.10,216.40 199.10,216.40" fill="none" stroke="#a52a2a" stroke-width="1.2" stroke-linejoin="round"/>
<polyline points="36.60,348.40 36.60,348.39 36.60,348.39 36.60,348.38 36.60,348.38 36.61,348.38 36.61,348.37 36.61,348.36 36.61,348.35 36.61,348.33 36.62,348.32 36.62,348.30 36.62,348.27 36.63,348.24 36.64,348.20 36.64,348.15 36.65,348.10 36.66,348.03 36.68,347.95 36.69,347.85 36.71,347.73 36.74,347.59 36.76,347.43 36.79,347.24 36.83,347.02 36.87,346.76 36.92,346.45 36.98,346.11 37.05,345.71 37.13,345.25 37.22,344.73 37.32,344.14 37.44,343.48 37.58,342.73 37.74,341.90 37.92,340.96 38.12,339.93 38.35,338.79 38.61,337.53 38.90,336.15 39.23,334.65 39.60,333.02 40.01,331.28 40.47,329.44 40.97,327.49 41.53,325.43 42.15,323.28 42.84,321.04 43.59,318.71 44.41,316.30 45.30,313.82 46.28,311.27 47.34,308.67 48.48,306.01 49.72,303.32 51.06,300.58 52.49,297.83 54.02,295.05 55.66,292.27 57.40,289.48 59.25,286.70 61.21,283.93 63.28,281.18 65.46,278.46 67.75,275.78 70.15,273.13 72.65,270.52 75.25,267.96 77.96,265.46 80.76,263.01 83.65,260.63 86.63,258.31 89.69,256.05 92.82,253.86 96.02,251.75 99.27,249.70 102.58,247.73 105.93,245.83 109.31,244.01 112.72,242.26 116.14,240.58 119.56,238.98 122.98,237.45 126.39,235.99 129.77,234.61 133.12,233.29 136.43,232.05 139.68,230.87 142.88,229.75 146.01,228.70 149.07,227.72 152.05,226.79 154.94,225.92 157.74,225.10 160.45,224.34 163.05,223.63 165.55,222.97 167.95,222.36 170.24,221.79 172.42,221.26 174.49,220.78 176.45,220.33 178.30,219.92 180.04,219.55 181.68,219.20 183.21,218.89 184.64,218.61 185.98,218.36 187.22,218.13 188.36,217.93 189.42,217.74 190.40,217.58 191.29,217.43 192.11,217.30 192.86,217.19 193.55,217.09 194.17,217.00 194.73,216.92 195.23,216.85 195.69,216.79 196.10,216.73 196.47,216.69 196.80,216.64 197.09,216.61 197.35,216.58 197.58,216.55 197.78,216.53 197.96,216.51 198.12,216.49 198.26,216.48 198.38,216.47 198.48,216.46 198.57,216.45 198.65,216.44 198.72,216.43 198.78,216.43 198.83,216.42 198.87,216.42 198.91,216.42 198.94,216.41 198.96,216.41 198.99,216.41 199.01,216.41 199.02,216.41 199.04,216.40 199.05,216.40 199.06,216.40 199.06,216.40 199.07,216.40 199.08,216.40 199.08,216.40 199.08,216.40 199.09,216.40 199.09,216.40 199.09,216.40 199.09,216.40 199.09,216.40 199.10,216.40 199.10,216.40 199.10,216.40 199.10,216.40 199.10,216.40" fill="none" stroke="#00e000" stroke-width="1.2" stroke-dasharray="2.30 2.30 6.90 2.30" stroke-linejoin="round"/>
<polyline points="36.60,348.40 36.60,348.35 36.60,348.34 36.60,348.32 36.60,348.31 36.61,348.30 36.61,348.28 36.61,348.26 36.61,348.23 36.61,348.21 36.62,348.17 36.62,348.14 36.62,348.10 36.63,348.05 36.64,348.00 36.64,347.93 36.65,347.87 36.66,347.79 36.68,347.70 36.69,347.60 36.71,347.49 36.74,347.36 36.76,347.22 36.79,347.06 36.83,346.89 36.87,346.70 36.92,346.48 36.98,346.24 37.05,345.98 37.13,345.69 37.22,345.37 37.32,345.02 37.44,344.63 37.58,344.21 37.74,343.76 37.92,343.26 38.12,342.72 38.35,342.13 38.61,341.50 38.90,340.82 39.23,340.08 39.60,339.30 40.01,338.45 40.47,337.55 40.97,336.59 41.53,335.56 42.15,334.47 42.84,333.32 43.59,332.09 44.41,330.80 45.30,329.41 46.28,327.94 47.34,326.37 48.48,324.72 49.72,322.96 51.06,321.12 52.49,319.18 54.02,317.15 55.66,315.02 57.40,312.81 59.25,310.51 61.21,308.13 63.28,305.67 65.46,303.13 67.75,300.53 70.15,297.87 72.65,295.16 75.25,292.41 77.96,289.62 80.76,286.80 83.65,283.96 86.63,281.12 89.69,278.28 92.82,275.45 96.02,272.64 99.27,269.86 102.58,267.12 105.93,264.43 109.31,261.79 112.72,259.21 116.14,256.71 119.56,254.28 122.98,251.93 126.39,249.66 129.77,247.48 133.12,245.40 136.43,243.41 139.68,241.52 142.88,239.72 146.01,238.01 149.07,236.41 152.05,234.89 154.94,233.47 157.74,232.14 160.45,230.90 163.05,229.74 165.55,228.66 167.95,227.66 170.24,226.74 172.42,225.88 174.49,225.09 176.45,224.36 178.30,223.69 180.04,223.08 181.68,222.52 183.21,221.99 184.64,221.50 185.98,221.05 187.22,220.63 188.36,220.25 189.42,219.89 190.40,219.56 191.29,219.26 192.11,218.98 192.86,218.72 193.55,218.49 194.17,218.28 194.73,218.08 195.23,217.91 195.69,217.75 196.10,217.60 196.47,217.47 196.80,217.35 197.09,217.25 197.35,217.15 197.58,217.07 197.78,216.99 197.96,216.92 198.12,216.86 198.26,216.80 198.38,216.75 198.48,216.71 198.57,216.67 198.65,216.64 198.72,216.61 198.78,216.58 198.83,216.56 198.87,216.54 198.91,216.52 198.94,216.50 198.96,216.49 198.99,216.48 199.01,216.47 199.02,216.46 199.04,216.45 199.05,216.44 199.06,216.44 199.06,216.43 199.07,216.43 199.08,216.42 199.08,216.42 199.08,216.42 199.09,216.41 199.09,216.41 199.09,216.41 199.09,216.41 199.09,216.41 199.10,216.41 199.10,216.40 199.10,216.40 199.10,216.40 199.10,216.40" fill="none" stroke="#0000ff" stroke-width="1.2" stroke-dasharray="1.15 3.45 4.60 3.45" stroke-linejoin="round"/>
<polyline points="36.60,348.40 36.60,348.40 36.60,348.39 36.60,348.39 36.60,348.39 36.61,348.39 36.61,348.39 36.61,348.38 36.61,348.38 36.61,348.37 36.62,348.36 36.62,348.35 36.62,348.34 36.63,348.32 36.64,348.30 36.64,348.28 36.65,348.25 36.66,348.22 36.68,348.17 36.69,348.12 36.71,348.06 36.74,347.99 36.76,347.90 36.79,347.79 36.83,347.67 36.87,347.52 36.92,347.35 36.98,347.16 37.05,346.93 37.13,346.66 37.22,346.35 37.32,346.00 37.44,345.59 37.58,345.13 37.74,344.61 37.92,344.02 38.12,343.36 38.35,342.62 38.61,341.79 38.90,340.87 39.23,339.86 39.60,338.74 40.01,337.51 40.47,336.16 40.97,334.70 41.53,333.12 42.15,331.43 42.84,329.63 43.59,327.73 44.41,325.73 45.30,323.62 46.28,321.43 47.34,319.14 48.48,316.77 49.72,314.33 51.06,311.81 52.49,309.23 54.02,306.59 55.66,303.90 57.40,301.18 59.25,298.42 61.21,295.63 63.28,292.84 65.46,290.03 67.75,287.22 70.15,284.42 72.65,281.64 75.25,278.88 77.96,276.15 80.76,273.45 83.65,270.79 86.63,268.19 89.69,265.63 92.82,263.13 96.02,260.69 99.27,258.32 102.58,256.01 105.93,253.78 109.31,251.62 112.72,249.53 116.14,247.52 119.56,245.58 122.98,243.73 126.39,241.95 129.77,240.25 133.12,238.63 136.43,237.08 139.68,235.62 142.88,234.22 146.01,232.90 149.07,231.66 152.05,230.48 154.94,229.37 157.74,228.33 160.45,227.35 163.05,226.44 165.55,225.58 167.95,224.78 170.24,224.04 172.42,223.35 174.49,222.70 176.45,222.11 178.30,221.56 180.04,221.06 181.68,220.59 183.21,220.17 184.64,219.78 185.98,219.42 187.22,219.10 188.36,218.81 189.42,218.54 190.40,218.30 191.29,218.09 192.11,217.89 192.86,217.72 193.55,217.56 194.17,217.42 194.73,217.29 195.23,217.18 195.69,217.08 196.10,217.00 196.47,216.92 196.80,216.85 197.09,216.79 197.35,216.74 197.58,216.69 197.78,216.65 197.96,216.62 198.12,216.58 198.26,216.56 198.38,216.54 198.48,216.52 198.57,216.50 198.65,216.48 198.72,216.47 198.78,216.46 198.83,216.45 198.87,216.44 198.91,216.44 198.94,216.43 198.96,216.42 198.99,216.42 199.01,216.42 199.02,216.41 199.04,216.41 199.05,216.41 199.06,216.41 199.06,216.41 199.07,216.41 199.08,216.40 199.08,216.40 199.08,216.40 199.09,216.40 199.09,216.40 199.09,216.40 199.09,216.40 199.09,216.40 199.10,216.40 199.10,216.40 199.10,216.40 199.10,216.40 199.10,216.40" fill="none" stroke="#e040e0" stroke-width="1.2" stroke-dasharray="1.15 3.45" stroke-linejoin="round"/>
<polyline points="36.60,348.40 36.60,348.39 36.60,348.39 36.60,348.38 36.60,348.38 36.61,348.37 36.61,348.37 36.61,348.36 36.61,348.35 36.61,348.34 36.62,348.33 36.62,348.31 36.62,348.29 36.63,348.27 36.64,348.24 36.64,348.21 36.65,348.17 36.66,348.13 36.68,348.08 36.69,348.02 36.71,347.94 36.74,347.86 36.76,347.76 36.79,347.65 36.83,347.52 36.87,347.37 36.92,347.19 36.98,347.00 37.05,346.77 37.13,346.51 37.22,346.23 37.32,345.90 37.44,345.53 37.58,345.12 37.74,344.66 37.92,344.14 38.12,343.57 38.35,342.94 38.61,342.24 38.90,341.47 39.23,340.63 39.60,339.71 40.01,338.71 40.47,337.62 40.97,336.45 41.53,335.18 42.15,333.81 42.84,332.35 43.59,330.78 44.41,329.13 45.30,327.37 46.28,325.53 47.34,323.59 48.48,321.57 49.72,319.45 51.06,317.26 52.49,314.99 54.02,312.64 55.66,310.22 57.40,307.74 59.25,305.20 61.21,302.61 63.28,299.97 65.46,297.30 67.75,294.60 70.15,291.87 72.65,289.13 75.25,286.38 77.96,283.63 80.76,280.89 83.65,278.16 86.63,275.46 89.69,272.78 92.82,270.14 96.02,267.54 99.27,264.98 102.58,262.48 105.93,260.04 109.31,257.66 112.72,255.34 116.14,253.10 119.56,250.92 122.98,248.83 126.39,246.81 129.77,244.86 133.12,243.00 136.43,241.22 139.68,239.52 142.88,237.91 146.01,236.37 149.07,234.91 152.05,233.53 154.94,232.23 157.74,231.00 160.45,229.84 163.05,228.76 165.55,227.75 167.95,226.80 170.24,225.91 172.42,225.09 174.49,224.33 176.45,223.62 178.30,222.96 180.04,222.35 181.68,221.80 183.21,221.28 184.64,220.81 185.98,220.37 187.22,219.97 188.36,219.60 189.42,219.27 190.40,218.97 191.29,218.69 192.11,218.44 192.86,218.22 193.55,218.01 194.17,217.83 194.73,217.66 195.23,217.51 195.69,217.38 196.10,217.26 196.47,217.16 196.80,217.06 197.09,216.98 197.35,216.90 197.58,216.84 197.78,216.78 197.96,216.73 198.12,216.69 198.26,216.65 198.38,216.61 198.48,216.58 198.57,216.56 198.65,216.53 198.72,216.51 198.78,216.50 198.83,216.48 198.87,216.47 198.91,216.46 198.94,216.45 198.96,216.44 198.99,216.44 199.01,216.43 199.02,216.43 199.04,216.42 199.05,216.42 199.06,216.41 199.06,216.41 199.07,216.41 199.08,216.41 199.08,216.41 199.08,216.41 199.09,216.40 199.09,216.40 199.09,216.40 199.09,216.40 199.09,216.40 199.10,216.40 199.10,216.40 199.10,216.40 199.10,216.40 199.10,216.40" fill="none" stroke="#ff0000" stroke-width="1.2" stroke-dasharray="4.60 4.60" stroke-linejoin="round"/>
<polyline points="36.60,348.40 36.60,347.16 36.60,346.96 36.60,346.73 36.60,346.48 36.61,346.18 36.61,345.86 36.61,345.49 36.61,345.07 36.61,344.61 36.62,344.10 36.62,343.53 36.62,342.90 36.63,342.20 36.64,341.44 36.64,340.60 36.65,339.69 36.66,338.69 36.68,337.61 36.69,336.45 36.71,335.19 36.74,333.84 36.76,332.39 36.79,330.84 36.83,329.19 36.87,327.45 36.92,325.60 36.98,323.65 37.05,321.60 37.13,319.45 37.22,317.21 37.32,314.87 37.44,312.45 37.58,309.94 37.74,307.35 37.92,304.69 38.12,301.97 38.35,299.18 38.61,296.35 38.90,293.47 39.23,290.55 39.60,287.61 40.01,284.66 40.47,281.70 40.97,278.79 41.53,275.96 42.15,273.21 42.84,270.54 43.59,267.96 44.41,265.47 45.30,263.07 46.28,260.76 47.34,258.54 48.48,256.41 49.72,254.36 51.06,252.40 52.49,250.52 54.02,248.72 55.66,246.99 57.40,245.35 59.25,243.77 61.21,242.26 63.28,240.82 65.46,239.45 67.75,238.13 70.15,236.87 72.65,235.67 75.25,234.53 77.96,233.43 80.76,232.38 83.65,231.38 86.63,230.43 89.69,229.52 92.82,228.65 96.02,227.82 99.27,227.03 102.58,226.27 105.93,225.56 109.31,224.87 112.72,224.22 116.14,223.61 119.56,223.03 122.98,222.47 126.39,221.95 129.77,221.46 133.12,221.00 136.43,220.56 139.68,220.16 142.88,219.78 146.01,219.42 149.07,219.10 152.05,218.79 154.94,218.52 157.74,218.27 160.45,218.04 163.05,217.84 165.55,217.67 167.95,217.51 170.24,217.37 172.42,217.24 174.49,217.13 176.45,217.03 178.30,216.95 180.04,216.87 181.68,216.81 183.21,216.75 184.64,216.70 185.98,216.66 187.22,216.62 188.36,216.59 189.42,216.56 190.40,216.53 191.29,216.51 192.11,216.50 192.86,216.48 193.55,216.47 194.17,216.46 194.73,216.45 195.23,216.44 195.69,216.43 196.10,216.43 196.47,216.42 196.80,216.42 197.09,216.42 197.35,216.41 197.58,216.41 197.78,216.41 197.96,216.41 198.12,216.41 198.26,216.40 198.38,216.40 198.48,216.40 198.57,216.40 198.65,216.40 198.72,216.40 198.78,216.40 198.83,216.40 198.87,216.40 198.91,216.40 198.94,216.40 198.96,216.40 198.99,216.40 199.01,216.40 199.02,216.40 199.04,216.40 199.05,216.40 199.06,216.40 199.06,216.40 199.07,216.40 199.08,216.40 199.08,216.40 199.08,216.40 199.09,216.40 199.09,216.40 199.09,216.40 199.09,216.40 199.09,216.40 199.10,216.40 199.10,216.40 199.10,216.40 199.10,216.40 199.10,216.40" fill="none" stroke="#ffa500" stroke-width="1.2" stroke-dasharray="8.05 3.45" stroke-linejoin="round"/>
<polyline points="36.60,348.40 36.60,343.00 36.60,342.58 36.60,342.12 36.60,341.64 36.60,341.13 36.61,340.58 36.61,340.01 36.61,339.41 36.61,338.77 36.61,338.09 36.61,337.39 36.62,336.64 36.62,335.86 36.62,335.04 36.62,334.19 36.63,333.29 36.63,332.36 36.64,331.38 36.65,330.37 36.66,329.31 36.66,328.21 36.67,327.08 36.69,325.90 36.70,324.68 36.72,323.42 36.74,322.12 36.76,320.78 36.78,319.40 36.81,317.98 36.84,316.52 36.87,315.03 36.91,313.50 36.96,311.93 37.01,310.33 37.06,308.70 37.13,307.04 37.20,305.35 37.28,303.63 37.37,301.89 37.47,300.12 37.58,298.33 37.70,296.52 37.84,294.69 37.99,292.85 38.16,290.99 38.34,289.13 38.54,287.25 38.77,285.37 39.01,283.48 39.28,281.60 39.58,279.82 39.90,278.05 40.25,276.23 40.64,274.39 41.05,272.51 41.50,270.62 41.99,268.70 42.52,266.78 43.08,264.83 43.70,262.82 44.36,260.80 45.06,258.81 45.82,256.90 46.63,255.07 47.49,253.29 48.41,251.59 49.38,249.99 50.42,248.51 51.52,247.12 52.68,245.81 53.91,244.52 55.20,243.25 56.56,242.00 57.99,240.79 59.49,239.63 61.06,238.52 62.70,237.48 64.41,236.51 66.18,235.58 68.03,234.69 69.95,233.82 71.93,232.96 73.98,232.09 76.10,231.22 78.28,230.35 80.52,229.52 82.81,228.74 85.17,228.03 87.57,227.39 90.03,226.81 92.53,226.27 95.08,225.76 97.66,225.26 100.28,224.77 102.93,224.30 105.61,223.84 108.31,223.40 111.02,222.97 113.75,222.57 116.48,222.17 119.22,221.79 121.95,221.44 124.68,221.09 127.39,220.77 130.09,220.46 132.77,220.17 135.42,219.89 138.04,219.63 140.62,219.38 143.17,219.15 145.67,218.93 148.13,218.72 150.53,218.53 152.89,218.35 155.18,218.19 157.42,218.04 159.60,217.91 161.72,217.78 163.77,217.66 165.75,217.55 167.67,217.45 169.52,217.36 171.29,217.28 173.00,217.20 174.64,217.13 176.21,217.06 177.71,217.00 179.14,216.94 180.50,216.89 181.79,216.84 183.02,216.80 184.18,216.76 185.28,216.73 186.32,216.69 187.29,216.67 188.21,216.64 189.07,216.61 189.88,216.59 190.64,216.57 191.34,216.55 192.00,216.54 192.62,216.52 193.18,216.51 193.71,216.50 194.20,216.49 194.65,216.48 195.06,216.47 195.45,216.46 195.80,216.45 196.12,216.45 196.42,216.44 196.69,216.44 196.93,216.43 197.16,216.43 197.36,216.43 197.54,216.42 197.71,216.42 197.86,216.42 198.00,216.42 198.12,216.41 198.23,216.41 198.33,216.41 198.42,216.41 198.50,216.41 198.57,216.41 198.64,216.41 198.69,216.41 198.74,216.40 198.79,216.40 198.83,216.40 198.86,216.40 198.89,216.40 198.92,216.40 198.94,216.40 198.96,216.40 198.98,216.40 199.00,216.40 199.01,216.40 199.03,216.40 199.04,216.40 199.04,216.40 199.05,216.40 199.06,216.40 199.07,216.40 199.07,216.40 199.08,216.40 199.08,216.40 199.08,216.40 199.08,216.40 199.09,216.40 199.09,216.40 199.09,216.40 199.09,216.40 199.09,216.40 199.09,216.40 199.10,216.40 199.10,216.40 199.10,216.40 199.10,216.40 199.10,216.40 199.10,216.40" fill="none" stroke="#000000" stroke-width="1.2" stroke-linejoin="round"/>
<text xml:space="preserve" x="117.85" y="204.00" font-size="7.9" font-weight="bold" text-anchor="middle" fill="#111">0 % up  40 % down</text>
<text x="34.00" y="204.80" font-size="6.3" fill="#333">d)</text>
<line x1="239.30" y1="348.40" x2="239.30" y2="216.40" stroke="#444" stroke-width="0.9"/>
<line x1="235.30" y1="348.40" x2="239.30" y2="348.40" stroke="#444" stroke-width="0.9"/>
<text x="0" y="0" transform="translate(230.10,348.40) rotate(-90)" font-size="6.1" text-anchor="middle" fill="#111" stroke="#111" stroke-width="0.12">0</text>
<line x1="235.30" y1="322.00" x2="239.30" y2="322.00" stroke="#444" stroke-width="0.9"/>
<text x="0" y="0" transform="translate(230.10,322.00) rotate(-90)" font-size="6.1" text-anchor="middle" fill="#111" stroke="#111" stroke-width="0.12">0.2</text>
<line x1="235.30" y1="295.60" x2="239.30" y2="295.60" stroke="#444" stroke-width="0.9"/>
<text x="0" y="0" transform="translate(230.10,295.60) rotate(-90)" font-size="6.1" text-anchor="middle" fill="#111" stroke="#111" stroke-width="0.12">0.4</text>
<line x1="235.30" y1="269.20" x2="239.30" y2="269.20" stroke="#444" stroke-width="0.9"/>
<text x="0" y="0" transform="translate(230.10,269.20) rotate(-90)" font-size="6.1" text-anchor="middle" fill="#111" stroke="#111" stroke-width="0.12">0.6</text>
<line x1="235.30" y1="242.80" x2="239.30" y2="242.80" stroke="#444" stroke-width="0.9"/>
<text x="0" y="0" transform="translate(230.10,242.80) rotate(-90)" font-size="6.1" text-anchor="middle" fill="#111" stroke="#111" stroke-width="0.12">0.8</text>
<line x1="235.30" y1="216.40" x2="239.30" y2="216.40" stroke="#444" stroke-width="0.9"/>
<text x="0" y="0" transform="translate(230.10,216.40) rotate(-90)" font-size="6.1" text-anchor="middle" fill="#111" stroke="#111" stroke-width="0.12">1</text>
<line x1="245.80" y1="353.68" x2="408.30" y2="353.68" stroke="#444" stroke-width="0.9"/>
<line x1="245.80" y1="353.68" x2="245.80" y2="357.68" stroke="#444" stroke-width="0.9"/>
<text x="245.80" y="367.43" font-size="6.35" text-anchor="middle" fill="#111" stroke="#111" stroke-width="0.12">0</text>
<line x1="278.30" y1="353.68" x2="278.30" y2="357.68" stroke="#444" stroke-width="0.9"/>
<text x="278.30" y="367.43" font-size="6.35" text-anchor="middle" fill="#111" stroke="#111" stroke-width="0.12">0.2</text>
<line x1="310.80" y1="353.68" x2="310.80" y2="357.68" stroke="#444" stroke-width="0.9"/>
<text x="310.80" y="367.43" font-size="6.35" text-anchor="middle" fill="#111" stroke="#111" stroke-width="0.12">0.4</text>
<line x1="343.30" y1="353.68" x2="343.30" y2="357.68" stroke="#444" stroke-width="0.9"/>
<text x="343.30" y="367.43" font-size="6.35" text-anchor="middle" fill="#111" stroke="#111" stroke-width="0.12">0.6</text>
<line x1="375.80" y1="353.68" x2="375.80" y2="357.68" stroke="#444" stroke-width="0.9"/>
<text x="375.80" y="367.43" font-size="6.35" text-anchor="middle" fill="#111" stroke="#111" stroke-width="0.12">0.8</text>
<line x1="408.30" y1="353.68" x2="408.30" y2="357.68" stroke="#444" stroke-width="0.9"/>
<text x="408.30" y="367.43" font-size="6.35" text-anchor="middle" fill="#111" stroke="#111" stroke-width="0.12">1</text>
<line x1="245.80" y1="348.40" x2="408.30" y2="216.40" stroke="#333" stroke-width="0.95" stroke-dasharray="3.2 3.2"/>
<polyline points="245.80,348.40 245.80,348.40 245.80,348.40 245.80,348.40 245.80,348.40 245.81,348.40 245.81,348.40 245.81,348.39 245.81,348.39 245.81,348.39 245.82,348.39 245.82,348.39 245.82,348.38 245.83,348.38 245.84,348.38 245.84,348.37 245.85,348.37 245.86,348.36 245.88,348.35 245.89,348.34 245.91,348.33 245.94,348.32 245.96,348.30 245.99,348.28 246.03,348.26 246.07,348.24 246.12,348.21 246.18,348.18 246.25,348.14 246.33,348.09 246.42,348.04 246.52,347.98 246.64,347.91 246.78,347.84 246.94,347.75 247.12,347.65 247.32,347.54 247.55,347.41 247.81,347.27 248.10,347.10 248.43,346.92 248.80,346.72 249.21,346.49 249.67,346.23 250.17,345.95 250.73,345.64 251.35,345.29 252.04,344.91 252.79,344.49 253.61,344.02 254.50,343.52 255.48,342.96 256.54,342.36 257.68,341.70 258.92,340.99 260.26,340.22 261.69,339.38 263.22,338.48 264.86,337.51 266.60,336.45 268.45,335.30 270.41,334.06 272.48,332.73 274.66,331.30 276.95,329.78 279.35,328.15 281.85,326.41 284.45,324.57 287.16,322.62 289.96,320.57 292.85,318.42 295.83,316.16 298.89,313.81 302.02,311.36 305.22,308.82 308.47,306.20 311.78,303.50 315.13,300.73 318.51,297.91 321.92,295.03 325.34,292.11 328.76,289.16 332.18,286.19 335.59,283.21 338.97,280.22 342.32,277.25 345.63,274.31 348.88,271.39 352.08,268.52 355.21,265.70 358.27,262.94 361.25,260.25 364.14,257.63 366.94,255.10 369.65,252.65 372.25,250.30 374.75,248.05 377.15,245.89 379.44,243.83 381.62,241.88 383.69,240.03 385.65,238.28 387.50,236.61 389.24,235.03 390.88,233.53 392.41,232.13 393.84,230.80 395.18,229.56 396.42,228.39 397.56,227.31 398.62,226.30 399.60,225.36 400.49,224.50 401.31,223.70 402.06,222.96 402.75,222.28 403.37,221.67 403.93,221.10 404.43,220.59 404.89,220.12 405.30,219.70 405.67,219.32 406.00,218.97 406.29,218.67 406.55,218.39 406.78,218.14 406.98,217.92 407.16,217.73 407.32,217.55 407.46,217.40 407.58,217.27 407.68,217.15 407.77,217.04 407.85,216.95 407.92,216.87 407.98,216.80 408.03,216.74 408.07,216.69 408.11,216.65 408.14,216.61 408.16,216.58 408.19,216.55 408.21,216.53 408.22,216.51 408.24,216.49 408.25,216.47 408.26,216.46 408.26,216.45 408.27,216.44 408.28,216.43 408.28,216.43 408.28,216.42 408.29,216.42 408.29,216.42 408.29,216.41 408.29,216.41 408.29,216.41 408.30,216.41 408.30,216.41 408.30,216.40 408.30,216.40 408.30,216.40" fill="none" stroke="#a52a2a" stroke-width="1.2" stroke-linejoin="round"/>
<polyline points="245.80,348.40 245.80,348.39 245.80,348.39 245.80,348.39 245.80,348.39 245.81,348.38 245.81,348.38 245.81,348.38 245.81,348.37 245.81,348.37 245.82,348.36 245.82,348.35 245.82,348.34 245.83,348.33 245.84,348.31 245.84,348.29 245.85,348.27 245.86,348.25 245.88,348.22 245.89,348.19 245.91,348.15 245.94,348.10 245.96,348.05 245.99,347.99 246.03,347.92 246.07,347.84 246.12,347.75 246.18,347.64 246.25,347.52 246.33,347.38 246.42,347.23 246.52,347.05 246.64,346.85 246.78,346.63 246.94,346.37 247.12,346.09 247.32,345.78 247.55,345.43 247.81,345.03 248.10,344.60 248.43,344.12 248.80,343.60 249.21,343.02 249.67,342.39 250.17,341.70 250.73,340.94 251.35,340.12 252.04,339.24 252.79,338.28 253.61,337.24 254.50,336.13 255.48,334.94 256.54,333.66 257.68,332.29 258.92,330.84 260.26,329.30 261.69,327.67 263.22,325.94 264.86,324.12 266.60,322.22 268.45,320.22 270.41,318.13 272.48,315.96 274.66,313.71 276.95,311.37 279.35,308.96 281.85,306.48 284.45,303.94 287.16,301.33 289.96,298.67 292.85,295.96 295.83,293.21 298.89,290.43 302.02,287.62 305.22,284.80 308.47,281.97 311.78,279.14 315.13,276.31 318.51,273.50 321.92,270.72 325.34,267.97 328.76,265.26 332.18,262.59 335.59,259.98 338.97,257.43 342.32,254.95 345.63,252.53 348.88,250.20 352.08,247.94 355.21,245.77 358.27,243.69 361.25,241.70 364.14,239.79 366.94,237.99 369.65,236.27 372.25,234.65 374.75,233.12 377.15,231.68 379.44,230.33 381.62,229.07 383.69,227.90 385.65,226.81 387.50,225.80 389.24,224.87 390.88,224.01 392.41,223.22 393.84,222.50 395.18,221.84 396.42,221.24 397.56,220.69 398.62,220.20 399.60,219.75 400.49,219.35 401.31,218.99 402.06,218.67 402.75,218.38 403.37,218.13 403.93,217.90 404.43,217.70 404.89,217.52 405.30,217.37 405.67,217.23 406.00,217.11 406.29,217.01 406.55,216.92 406.78,216.84 406.98,216.78 407.16,216.72 407.32,216.67 407.46,216.63 407.58,216.59 407.68,216.56 407.77,216.53 407.85,216.51 407.92,216.49 407.98,216.48 408.03,216.46 408.07,216.45 408.11,216.44 408.14,216.43 408.16,216.43 408.19,216.42 408.21,216.42 408.22,216.42 408.24,216.41 408.25,216.41 408.26,216.41 408.26,216.41 408.27,216.41 408.28,216.40 408.28,216.40 408.28,216.40 408.29,216.40 408.29,216.40 408.29,216.40 408.29,216.40 408.29,216.40 408.30,216.40 408.30,216.40 408.30,216.40 408.30,216.40 408.30,216.40" fill="none" stroke="#00e000" stroke-width="1.2" stroke-dasharray="2.30 2.30 6.90 2.30" stroke-linejoin="round"/>
<polyline points="245.80,348.40 245.80,348.40 245.80,348.40 245.80,348.40 245.80,348.40 245.81,348.40 245.81,348.40 245.81,348.39 245.81,348.39 245.81,348.39 245.82,348.39 245.82,348.39 245.82,348.38 245.83,348.38 245.84,348.38 245.84,348.37 245.85,348.37 245.86,348.36 245.88,348.35 245.89,348.34 245.91,348.33 245.94,348.32 245.96,348.30 245.99,348.28 246.03,348.26 246.07,348.24 246.12,348.21 246.18,348.18 246.25,348.14 246.33,348.09 246.42,348.04 246.52,347.98 246.64,347.91 246.78,347.84 246.94,347.75 247.12,347.65 247.32,347.54 247.55,347.41 247.81,347.27 248.10,347.10 248.43,346.92 248.80,346.72 249.21,346.49 249.67,346.23 250.17,345.95 250.73,345.64 251.35,345.29 252.04,344.91 252.79,344.49 253.61,344.02 254.50,343.52 255.48,342.96 256.54,342.36 257.68,341.70 258.92,340.99 260.26,340.22 261.69,339.38 263.22,338.48 264.86,337.51 266.60,336.45 268.45,335.30 270.41,334.06 272.48,332.73 274.66,331.30 276.95,329.78 279.35,328.15 281.85,326.41 284.45,324.57 287.16,322.62 289.96,320.57 292.85,318.42 295.83,316.16 298.89,313.81 302.02,311.36 305.22,308.82 308.47,306.20 311.78,303.50 315.13,300.73 318.51,297.91 321.92,295.03 325.34,292.11 328.76,289.16 332.18,286.19 335.59,283.21 338.97,280.22 342.32,277.25 345.63,274.31 348.88,271.39 352.08,268.52 355.21,265.70 358.27,262.94 361.25,260.25 364.14,257.63 366.94,255.10 369.65,252.65 372.25,250.30 374.75,248.05 377.15,245.89 379.44,243.83 381.62,241.88 383.69,240.03 385.65,238.28 387.50,236.61 389.24,235.03 390.88,233.53 392.41,232.13 393.84,230.80 395.18,229.56 396.42,228.39 397.56,227.31 398.62,226.30 399.60,225.36 400.49,224.50 401.31,223.70 402.06,222.96 402.75,222.28 403.37,221.67 403.93,221.10 404.43,220.59 404.89,220.12 405.30,219.70 405.67,219.32 406.00,218.97 406.29,218.67 406.55,218.39 406.78,218.14 406.98,217.92 407.16,217.73 407.32,217.55 407.46,217.40 407.58,217.27 407.68,217.15 407.77,217.04 407.85,216.95 407.92,216.87 407.98,216.80 408.03,216.74 408.07,216.69 408.11,216.65 408.14,216.61 408.16,216.58 408.19,216.55 408.21,216.53 408.22,216.51 408.24,216.49 408.25,216.47 408.26,216.46 408.26,216.45 408.27,216.44 408.28,216.43 408.28,216.43 408.28,216.42 408.29,216.42 408.29,216.42 408.29,216.41 408.29,216.41 408.29,216.41 408.30,216.41 408.30,216.41 408.30,216.40 408.30,216.40 408.30,216.40" fill="none" stroke="#0000ff" stroke-width="1.2" stroke-dasharray="1.15 3.45 4.60 3.45" stroke-linejoin="round"/>
<polyline points="245.80,348.40 245.80,348.39 245.80,348.39 245.80,348.39 245.80,348.38 245.81,348.38 245.81,348.38 245.81,348.37 245.81,348.37 245.81,348.36 245.82,348.36 245.82,348.35 245.82,348.34 245.83,348.33 245.84,348.32 245.84,348.30 245.85,348.28 245.86,348.26 245.88,348.24 245.89,348.22 245.91,348.19 245.94,348.15 245.96,348.11 245.99,348.07 246.03,348.02 246.07,347.96 246.12,347.89 246.18,347.82 246.25,347.73 246.33,347.64 246.42,347.53 246.52,347.41 246.64,347.28 246.78,347.13 246.94,346.97 247.12,346.78 247.32,346.57 247.55,346.35 247.81,346.10 248.10,345.82 248.43,345.51 248.80,345.18 249.21,344.81 249.67,344.41 250.17,343.97 250.73,343.49 251.35,342.98 252.04,342.41 252.79,341.81 253.61,341.15 254.50,340.45 255.48,339.69 256.54,338.87 257.68,338.00 258.92,337.07 260.26,336.05 261.69,334.96 263.22,333.78 264.86,332.51 266.60,331.15 268.45,329.69 270.41,328.14 272.48,326.49 274.66,324.73 276.95,322.88 279.35,320.92 281.85,318.86 284.45,316.70 287.16,314.45 289.96,312.09 292.85,309.65 295.83,307.12 298.89,304.52 302.02,301.83 305.22,299.09 308.47,296.28 311.78,293.43 315.13,290.54 318.51,287.62 321.92,284.68 325.34,281.73 328.76,278.78 332.18,275.85 335.59,272.94 338.97,270.06 342.32,267.23 345.63,264.45 348.88,261.73 352.08,259.08 355.21,256.50 358.27,254.01 361.25,251.61 364.14,249.29 366.94,247.08 369.65,244.96 372.25,242.95 374.75,241.04 377.15,239.23 379.44,237.52 381.62,235.91 383.69,234.40 385.65,232.98 387.50,231.64 389.24,230.38 390.88,229.20 392.41,228.09 393.84,227.06 395.18,226.09 396.42,225.20 397.56,224.37 398.62,223.60 399.60,222.89 400.49,222.24 401.31,221.64 402.06,221.09 402.75,220.60 403.37,220.14 403.93,219.73 404.43,219.35 404.89,219.02 405.30,218.71 405.67,218.44 406.00,218.19 406.29,217.97 406.55,217.78 406.78,217.60 406.98,217.45 407.16,217.31 407.32,217.19 407.46,217.08 407.58,216.99 407.68,216.91 407.77,216.84 407.85,216.78 407.92,216.72 407.98,216.67 408.03,216.63 408.07,216.60 408.11,216.57 408.14,216.54 408.16,216.52 408.19,216.50 408.21,216.48 408.22,216.47 408.24,216.46 408.25,216.45 408.26,216.44 408.26,216.43 408.27,216.43 408.28,216.42 408.28,216.42 408.28,216.42 408.29,216.41 408.29,216.41 408.29,216.41 408.29,216.41 408.29,216.41 408.30,216.40 408.30,216.40 408.30,216.40 408.30,216.40 408.30,216.40" fill="none" stroke="#e040e0" stroke-width="1.2" stroke-dasharray="1.15 3.45" stroke-linejoin="round"/>
<polyline points="245.80,348.40 245.80,348.40 245.80,348.40 245.80,348.40 245.80,348.40 245.81,348.39 245.81,348.39 245.81,348.39 245.81,348.39 245.81,348.39 245.82,348.38 245.82,348.38 245.82,348.37 245.83,348.37 245.84,348.36 245.84,348.35 245.85,348.34 245.86,348.33 245.88,348.31 245.89,348.29 245.91,348.27 245.94,348.25 245.96,348.22 245.99,348.18 246.03,348.14 246.07,348.10 246.12,348.04 246.18,347.98 246.25,347.90 246.33,347.82 246.42,347.72 246.52,347.60 246.64,347.47 246.78,347.33 246.94,347.16 247.12,346.97 247.32,346.75 247.55,346.51 247.81,346.23 248.10,345.93 248.43,345.58 248.80,345.20 249.21,344.77 249.67,344.30 250.17,343.78 250.73,343.20 251.35,342.57 252.04,341.87 252.79,341.12 253.61,340.29 254.50,339.39 255.48,338.42 256.54,337.37 257.68,336.24 258.92,335.02 260.26,333.72 261.69,332.33 263.22,330.84 264.86,329.27 266.60,327.60 268.45,325.84 270.41,323.99 272.48,322.04 274.66,320.00 276.95,317.87 279.35,315.66 281.85,313.37 284.45,310.99 287.16,308.54 289.96,306.02 292.85,303.44 295.83,300.79 298.89,298.10 302.02,295.37 305.22,292.59 308.47,289.79 311.78,286.97 315.13,284.13 318.51,281.29 321.92,278.46 325.34,275.63 328.76,272.83 332.18,270.05 335.59,267.31 338.97,264.62 342.32,261.98 345.63,259.39 348.88,256.87 352.08,254.41 355.21,252.03 358.27,249.73 361.25,247.51 364.14,245.37 366.94,243.33 369.65,241.37 372.25,239.51 374.75,237.73 377.15,236.05 379.44,234.47 381.62,232.97 383.69,231.56 385.65,230.24 387.50,229.01 389.24,227.86 390.88,226.79 392.41,225.80 393.84,224.88 395.18,224.03 396.42,223.25 397.56,222.54 398.62,221.88 399.60,221.29 400.49,220.75 401.31,220.25 402.06,219.81 402.75,219.41 403.37,219.05 403.93,218.73 404.43,218.44 404.89,218.18 405.30,217.95 405.67,217.75 406.00,217.57 406.29,217.41 406.55,217.27 406.78,217.15 406.98,217.04 407.16,216.95 407.32,216.87 407.46,216.80 407.58,216.74 407.68,216.69 407.77,216.64 407.85,216.61 407.92,216.57 407.98,216.54 408.03,216.52 408.07,216.50 408.11,216.48 408.14,216.47 408.16,216.46 408.19,216.45 408.21,216.44 408.22,216.43 408.24,216.43 408.25,216.42 408.26,216.42 408.26,216.41 408.27,216.41 408.28,216.41 408.28,216.41 408.28,216.41 408.29,216.40 408.29,216.40 408.29,216.40 408.29,216.40 408.29,216.40 408.30,216.40 408.30,216.40 408.30,216.40 408.30,216.40 408.30,216.40" fill="none" stroke="#ff0000" stroke-width="1.2" stroke-dasharray="4.60 4.60" stroke-linejoin="round"/>
<polyline points="245.80,348.40 245.80,347.58 245.80,347.46 245.80,347.32 245.80,347.17 245.81,347.00 245.81,346.81 245.81,346.59 245.81,346.35 245.81,346.08 245.82,345.78 245.82,345.46 245.82,345.09 245.83,344.69 245.84,344.26 245.84,343.77 245.85,343.25 245.86,342.68 245.88,342.05 245.89,341.38 245.91,340.64 245.94,339.85 245.96,339.00 245.99,338.08 246.03,337.10 246.07,336.05 246.12,334.93 246.18,333.73 246.25,332.46 246.33,331.12 246.42,329.70 246.52,328.20 246.64,326.63 246.78,324.98 246.94,323.25 247.12,321.44 247.32,319.56 247.55,317.61 247.81,315.59 248.10,313.49 248.43,311.33 248.80,309.11 249.21,306.83 249.67,304.50 250.17,302.11 250.73,299.68 251.35,297.21 252.04,294.70 252.79,292.17 253.61,289.61 254.50,287.03 255.48,284.44 256.54,281.85 257.68,279.26 258.92,276.67 260.26,274.09 261.69,271.53 263.22,269.00 264.86,266.50 266.60,264.04 268.45,261.63 270.41,259.27 272.48,256.97 274.66,254.74 276.95,252.58 279.35,250.49 281.85,248.47 284.45,246.54 287.16,244.69 289.96,242.92 292.85,241.23 295.83,239.63 298.89,238.11 302.02,236.67 305.22,235.31 308.47,234.03 311.78,232.83 315.13,231.71 318.51,230.65 321.92,229.67 325.34,228.76 328.76,227.90 332.18,227.11 335.59,226.38 338.97,225.70 342.32,225.07 345.63,224.49 348.88,223.96 352.08,223.46 355.21,223.01 358.27,222.60 361.25,222.22 364.14,221.86 366.94,221.53 369.65,221.21 372.25,220.91 374.75,220.62 377.15,220.35 379.44,220.09 381.62,219.85 383.69,219.62 385.65,219.40 387.50,219.20 389.24,219.01 390.88,218.82 392.41,218.65 393.84,218.49 395.18,218.34 396.42,218.20 397.56,218.07 398.62,217.95 399.60,217.83 400.49,217.73 401.31,217.62 402.06,217.53 402.75,217.44 403.37,217.36 403.93,217.29 404.43,217.22 404.89,217.15 405.30,217.09 405.67,217.03 406.00,216.98 406.29,216.93 406.55,216.89 406.78,216.85 406.98,216.81 407.16,216.77 407.32,216.74 407.46,216.71 407.58,216.68 407.68,216.66 407.77,216.63 407.85,216.61 407.92,216.59 407.98,216.58 408.03,216.56 408.07,216.54 408.11,216.53 408.14,216.52 408.16,216.51 408.19,216.50 408.21,216.49 408.22,216.48 408.24,216.47 408.25,216.46 408.26,216.46 408.26,216.45 408.27,216.45 408.28,216.44 408.28,216.44 408.28,216.43 408.29,216.43 408.29,216.43 408.29,216.42 408.29,216.42 408.29,216.42 408.30,216.42 408.30,216.42 408.30,216.41 408.30,216.41 408.30,216.40" fill="none" stroke="#ffa500" stroke-width="1.2" stroke-dasharray="8.05 3.45" stroke-linejoin="round"/>
<polyline points="245.80,348.40 245.80,347.97 245.80,347.89 245.80,347.81 245.80,347.71 245.80,347.59 245.81,347.46 245.81,347.31 245.81,347.15 245.81,346.96 245.81,346.74 245.81,346.50 245.82,346.23 245.82,345.92 245.82,345.58 245.82,345.20 245.83,344.78 245.83,344.32 245.84,343.80 245.85,343.24 245.86,342.62 245.86,341.93 245.87,341.19 245.89,340.38 245.90,339.50 245.92,338.55 245.94,337.52 245.96,336.42 245.98,335.23 246.01,333.96 246.04,332.60 246.07,331.15 246.11,329.62 246.16,327.99 246.21,326.28 246.26,324.48 246.33,322.58 246.40,320.60 246.48,318.53 246.57,316.38 246.67,314.15 246.78,311.83 246.90,309.45 247.04,306.99 247.19,304.47 247.36,301.89 247.54,299.26 247.74,296.59 247.97,293.87 248.21,291.13 248.48,288.35 248.78,285.57 249.10,282.77 249.45,279.84 249.84,276.80 250.25,273.90 250.70,271.17 251.19,268.61 251.72,266.23 252.28,264.07 252.90,262.11 253.56,260.26 254.26,258.42 255.02,256.50 255.83,254.49 256.69,252.46 257.61,250.46 258.58,248.54 259.62,246.75 260.72,245.04 261.88,243.54 263.11,242.28 264.40,241.16 265.76,240.12 267.19,239.13 268.69,238.16 270.26,237.21 271.90,236.29 273.61,235.42 275.38,234.57 277.23,233.75 279.15,232.95 281.13,232.16 283.18,231.38 285.30,230.61 287.48,229.87 289.72,229.17 292.01,228.52 294.37,227.91 296.77,227.36 299.23,226.85 301.73,226.37 304.28,225.92 306.86,225.49 309.48,225.08 312.13,224.69 314.81,224.32 317.51,223.97 320.22,223.63 322.95,223.30 325.68,222.97 328.42,222.65 331.15,222.34 333.88,222.04 336.59,221.75 339.29,221.47 341.97,221.20 344.62,220.94 347.24,220.69 349.82,220.44 352.37,220.21 354.87,219.99 357.33,219.78 359.73,219.57 362.09,219.38 364.38,219.20 366.62,219.04 368.80,218.88 370.92,218.73 372.97,218.58 374.95,218.45 376.87,218.32 378.72,218.20 380.49,218.09 382.20,217.98 383.84,217.88 385.41,217.78 386.91,217.69 388.34,217.61 389.70,217.53 390.99,217.45 392.22,217.38 393.38,217.31 394.48,217.25 395.52,217.19 396.49,217.14 397.41,217.08 398.27,217.04 399.08,216.99 399.84,216.95 400.54,216.91 401.20,216.87 401.82,216.84 402.38,216.80 402.91,216.77 403.40,216.75 403.85,216.72 404.26,216.69 404.65,216.67 405.00,216.65 405.32,216.63 405.62,216.61 405.89,216.60 406.13,216.58 406.36,216.57 406.56,216.55 406.74,216.54 406.91,216.53 407.06,216.52 407.20,216.51 407.32,216.50 407.43,216.49 407.53,216.48 407.62,216.48 407.70,216.47 407.77,216.46 407.84,216.46 407.89,216.45 407.94,216.45 407.99,216.44 408.03,216.44 408.06,216.44 408.09,216.43 408.12,216.43 408.14,216.43 408.16,216.42 408.18,216.42 408.20,216.42 408.21,216.42 408.23,216.42 408.24,216.42 408.24,216.41 408.25,216.41 408.26,216.41 408.27,216.41 408.27,216.41 408.28,216.41 408.28,216.41 408.28,216.41 408.28,216.41 408.29,216.41 408.29,216.40 408.29,216.40 408.29,216.40 408.29,216.40 408.29,216.40 408.30,216.40 408.30,216.40 408.30,216.40 408.30,216.40 408.30,216.40 408.30,216.40" fill="none" stroke="#000000" stroke-width="1.2" stroke-linejoin="round"/>
<text xml:space="preserve" x="327.05" y="204.00" font-size="7.9" font-weight="bold" text-anchor="middle" fill="#111">0 % up  50 % down</text>
<text x="241.30" y="204.80" font-size="6.3" fill="#333">e)</text>
<line x1="448.80" y1="348.40" x2="448.80" y2="216.40" stroke="#444" stroke-width="0.9"/>
<line x1="444.80" y1="348.40" x2="448.80" y2="348.40" stroke="#444" stroke-width="0.9"/>
<text x="0" y="0" transform="translate(439.60,348.40) rotate(-90)" font-size="6.1" text-anchor="middle" fill="#111" stroke="#111" stroke-width="0.12">0</text>
<line x1="444.80" y1="322.00" x2="448.80" y2="322.00" stroke="#444" stroke-width="0.9"/>
<text x="0" y="0" transform="translate(439.60,322.00) rotate(-90)" font-size="6.1" text-anchor="middle" fill="#111" stroke="#111" stroke-width="0.12">0.2</text>
<line x1="444.80" y1="295.60" x2="448.80" y2="295.60" stroke="#444" stroke-width="0.9"/>
<text x="0" y="0" transform="translate(439.60,295.60) rotate(-90)" font-size="6.1" text-anchor="middle" fill="#111" stroke="#111" stroke-width="0.12">0.4</text>
<line x1="444.80" y1="269.20" x2="448.80" y2="269.20" stroke="#444" stroke-width="0.9"/>
<text x="0" y="0" transform="translate(439.60,269.20) rotate(-90)" font-size="6.1" text-anchor="middle" fill="#111" stroke="#111" stroke-width="0.12">0.6</text>
<line x1="444.80" y1="242.80" x2="448.80" y2="242.80" stroke="#444" stroke-width="0.9"/>
<text x="0" y="0" transform="translate(439.60,242.80) rotate(-90)" font-size="6.1" text-anchor="middle" fill="#111" stroke="#111" stroke-width="0.12">0.8</text>
<line x1="444.80" y1="216.40" x2="448.80" y2="216.40" stroke="#444" stroke-width="0.9"/>
<text x="0" y="0" transform="translate(439.60,216.40) rotate(-90)" font-size="6.1" text-anchor="middle" fill="#111" stroke="#111" stroke-width="0.12">1</text>
<line x1="455.30" y1="353.68" x2="617.80" y2="353.68" stroke="#444" stroke-width="0.9"/>
<line x1="455.30" y1="353.68" x2="455.30" y2="357.68" stroke="#444" stroke-width="0.9"/>
<text x="455.30" y="367.43" font-size="6.35" text-anchor="middle" fill="#111" stroke="#111" stroke-width="0.12">0</text>
<line x1="487.80" y1="353.68" x2="487.80" y2="357.68" stroke="#444" stroke-width="0.9"/>
<text x="487.80" y="367.43" font-size="6.35" text-anchor="middle" fill="#111" stroke="#111" stroke-width="0.12">0.2</text>
<line x1="520.30" y1="353.68" x2="520.30" y2="357.68" stroke="#444" stroke-width="0.9"/>
<text x="520.30" y="367.43" font-size="6.35" text-anchor="middle" fill="#111" stroke="#111" stroke-width="0.12">0.4</text>
<line x1="552.80" y1="353.68" x2="552.80" y2="357.68" stroke="#444" stroke-width="0.9"/>
<text x="552.80" y="367.43" font-size="6.35" text-anchor="middle" fill="#111" stroke="#111" stroke-width="0.12">0.6</text>
<line x1="585.30" y1="353.68" x2="585.30" y2="357.68" stroke="#444" stroke-width="0.9"/>
<text x="585.30" y="367.43" font-size="6.35" text-anchor="middle" fill="#111" stroke="#111" stroke-width="0.12">0.8</text>
<line x1="617.80" y1="353.68" x2="617.80" y2="357.68" stroke="#444" stroke-width="0.9"/>
<text x="617.80" y="367.43" font-size="6.35" text-anchor="middle" fill="#111" stroke="#111" stroke-width="0.12">1</text>
<line x1="455.30" y1="348.40" x2="617.80" y2="216.40" stroke="#333" stroke-width="0.95" stroke-dasharray="3.2 3.2"/>
<polyline points="455.30,348.40 455.30,348.40 455.30,348.40 455.30,348.40 455.30,348.40 455.31,348.40 455.31,348.40 455.31,348.40 455.31,348.40 455.31,348.40 455.32,348.40 455.32,348.40 455.32,348.40 455.33,348.40 455.34,348.40 455.34,348.40 455.35,348.40 455.36,348.39 455.38,348.39 455.39,348.39 455.41,348.39 455.44,348.39 455.46,348.39 455.49,348.38 455.53,348.38 455.57,348.37 455.62,348.37 455.68,348.36 455.75,348.36 455.83,348.35 455.92,348.34 456.02,348.32 456.14,348.31 456.28,348.29 456.44,348.28 456.62,348.25 456.82,348.23 457.05,348.20 457.31,348.16 457.60,348.12 457.93,348.08 458.30,348.02 458.71,347.96 459.17,347.89 459.67,347.81 460.23,347.72 460.85,347.62 461.54,347.50 462.29,347.37 463.11,347.23 464.00,347.06 464.98,346.88 466.04,346.67 467.18,346.44 468.42,346.18 469.76,345.89 471.19,345.57 472.72,345.22 474.36,344.83 476.10,344.39 477.95,343.91 479.91,343.39 481.98,342.81 484.16,342.17 486.45,341.47 488.85,340.71 491.35,339.88 493.95,338.98 496.66,338.01 499.46,336.95 502.35,335.82 505.33,334.60 508.39,333.28 511.52,331.88 514.72,330.38 517.97,328.79 521.28,327.10 524.63,325.30 528.01,323.41 531.42,321.42 534.84,319.33 538.26,317.15 541.68,314.86 545.09,312.49 548.47,310.02 551.82,307.47 555.13,304.85 558.38,302.14 561.58,299.37 564.71,296.54 567.77,293.66 570.75,290.74 573.64,287.77 576.44,284.79 579.15,281.78 581.75,278.77 584.25,275.77 586.65,272.77 588.94,269.81 591.12,266.87 593.19,263.98 595.15,261.14 597.00,258.36 598.74,255.65 600.38,253.01 601.91,250.46 603.34,248.00 604.68,245.63 605.92,243.37 607.06,241.20 608.12,239.15 609.10,237.20 609.99,235.36 610.81,233.63 611.56,232.02 612.25,230.51 612.87,229.11 613.43,227.82 613.93,226.63 614.39,225.53 614.80,224.53 615.17,223.62 615.50,222.79 615.79,222.03 616.05,221.35 616.28,220.74 616.48,220.20 616.66,219.71 616.82,219.27 616.96,218.89 617.08,218.55 617.18,218.25 617.27,217.98 617.35,217.75 617.42,217.55 617.48,217.38 617.53,217.23 617.57,217.10 617.61,216.99 617.64,216.89 617.66,216.81 617.69,216.74 617.71,216.69 617.72,216.64 617.74,216.59 617.75,216.56 617.76,216.53 617.76,216.51 617.77,216.49 617.78,216.47 617.78,216.46 617.78,216.45 617.79,216.44 617.79,216.43 617.79,216.42 617.79,216.42 617.79,216.41 617.80,216.41 617.80,216.41 617.80,216.41 617.80,216.41 617.80,216.40" fill="none" stroke="#a52a2a" stroke-width="1.2" stroke-linejoin="round"/>
<polyline points="455.30,348.40 455.30,348.40 455.30,348.40 455.30,348.40 455.30,348.40 455.31,348.40 455.31,348.40 455.31,348.40 455.31,348.40 455.31,348.39 455.32,348.39 455.32,348.39 455.32,348.39 455.33,348.39 455.34,348.38 455.34,348.38 455.35,348.38 455.36,348.37 455.38,348.37 455.39,348.36 455.41,348.36 455.44,348.35 455.46,348.34 455.49,348.33 455.53,348.31 455.57,348.30 455.62,348.28 455.68,348.26 455.75,348.24 455.83,348.21 455.92,348.18 456.02,348.14 456.14,348.10 456.28,348.06 456.44,348.00 456.62,347.94 456.82,347.87 457.05,347.80 457.31,347.71 457.60,347.61 457.93,347.50 458.30,347.37 458.71,347.23 459.17,347.07 459.67,346.90 460.23,346.70 460.85,346.49 461.54,346.25 462.29,345.98 463.11,345.69 464.00,345.37 464.98,345.01 466.04,344.63 467.18,344.20 468.42,343.73 469.76,343.21 471.19,342.65 472.72,342.03 474.36,341.36 476.10,340.63 477.95,339.83 479.91,338.97 481.98,338.04 484.16,337.03 486.45,335.95 488.85,334.78 491.35,333.53 493.95,332.19 496.66,330.76 499.46,329.24 502.35,327.63 505.33,325.92 508.39,324.11 511.52,322.20 514.72,320.20 517.97,318.10 521.28,315.90 524.63,313.61 528.01,311.23 531.42,308.76 534.84,306.20 538.26,303.57 541.68,300.87 545.09,298.09 548.47,295.26 551.82,292.37 555.13,289.45 558.38,286.48 561.58,283.49 564.71,280.48 567.77,277.47 570.75,274.46 573.64,271.47 576.44,268.49 579.15,265.56 581.75,262.66 584.25,259.82 586.65,257.04 588.94,254.33 591.12,251.70 593.19,249.16 595.15,246.71 597.00,244.35 598.74,242.10 600.38,239.96 601.91,237.92 603.34,236.00 604.68,234.19 605.92,232.49 607.06,230.90 608.12,229.42 609.10,228.05 609.99,226.79 610.81,225.63 611.56,224.57 612.25,223.61 612.87,222.74 613.43,221.95 613.93,221.25 614.39,220.62 614.80,220.06 615.17,219.56 615.50,219.12 615.79,218.73 616.05,218.40 616.28,218.10 616.48,217.84 616.66,217.62 616.82,217.43 616.96,217.26 617.08,217.12 617.18,217.00 617.27,216.90 617.35,216.81 617.42,216.74 617.48,216.68 617.53,216.63 617.57,216.59 617.61,216.55 617.64,216.52 617.66,216.50 617.69,216.48 617.71,216.46 617.72,216.45 617.74,216.44 617.75,216.43 617.76,216.43 617.76,216.42 617.77,216.42 617.78,216.41 617.78,216.41 617.78,216.41 617.79,216.41 617.79,216.40 617.79,216.40 617.79,216.40 617.79,216.40 617.80,216.40 617.80,216.40 617.80,216.40 617.80,216.40 617.80,216.40" fill="none" stroke="#00e000" stroke-width="1.2" stroke-dasharray="2.30 2.30 6.90 2.30" stroke-linejoin="round"/>
<polyline points="455.30,348.40 455.30,348.40 455.30,348.40 455.30,348.40 455.30,348.40 455.31,348.40 455.31,348.40 455.31,348.40 455.31,348.40 455.31,348.40 455.32,348.40 455.32,348.40 455.32,348.40 455.33,348.40 455.34,348.40 455.34,348.40 455.35,348.40 455.36,348.40 455.38,348.40 455.39,348.40 455.41,348.40 455.44,348.40 455.46,348.40 455.49,348.40 455.53,348.40 455.57,348.39 455.62,348.39 455.68,348.39 455.75,348.39 455.83,348.39 455.92,348.38 456.02,348.38 456.14,348.37 456.28,348.37 456.44,348.36 456.62,348.35 456.82,348.34 457.05,348.33 457.31,348.31 457.60,348.29 457.93,348.27 458.30,348.24 458.71,348.21 459.17,348.17 459.67,348.13 460.23,348.08 460.85,348.02 461.54,347.95 462.29,347.87 463.11,347.77 464.00,347.66 464.98,347.54 466.04,347.40 467.18,347.23 468.42,347.04 469.76,346.83 471.19,346.59 472.72,346.32 474.36,346.02 476.10,345.68 477.95,345.30 479.91,344.87 481.98,344.40 484.16,343.88 486.45,343.31 488.85,342.68 491.35,341.98 493.95,341.23 496.66,340.40 499.46,339.49 502.35,338.51 505.33,337.45 508.39,336.31 511.52,335.07 514.72,333.75 517.97,332.33 521.28,330.81 524.63,329.20 528.01,327.49 531.42,325.67 534.84,323.75 538.26,321.72 541.68,319.60 545.09,317.37 548.47,315.04 551.82,312.62 555.13,310.10 558.38,307.49 561.58,304.80 564.71,302.02 567.77,299.17 570.75,296.25 573.64,293.28 576.44,290.25 579.15,287.18 581.75,284.08 584.25,280.95 586.65,277.81 588.94,274.67 591.12,271.54 593.19,268.43 595.15,265.35 597.00,262.32 598.74,259.34 600.38,256.42 601.91,253.57 603.34,250.81 604.68,248.14 605.92,245.57 607.06,243.10 608.12,240.75 609.10,238.51 609.99,236.40 610.81,234.41 611.56,232.55 612.25,230.83 612.87,229.24 613.43,227.79 613.93,226.46 614.39,225.25 614.80,224.16 615.17,223.18 615.50,222.30 615.79,221.51 616.05,220.82 616.28,220.20 616.48,219.65 616.66,219.18 616.82,218.76 616.96,218.40 617.08,218.08 617.18,217.81 617.27,217.58 617.35,217.38 617.42,217.22 617.48,217.07 617.53,216.96 617.57,216.86 617.61,216.77 617.64,216.70 617.66,216.64 617.69,216.60 617.71,216.56 617.72,216.53 617.74,216.50 617.75,216.48 617.76,216.46 617.76,216.45 617.77,216.44 617.78,216.43 617.78,216.42 617.78,216.42 617.79,216.41 617.79,216.41 617.79,216.41 617.79,216.41 617.79,216.40 617.80,216.40 617.80,216.40 617.80,216.40 617.80,216.40 617.80,216.40" fill="none" stroke="#0000ff" stroke-width="1.2" stroke-dasharray="1.15 3.45 4.60 3.45" stroke-linejoin="round"/>
<polyline points="455.30,348.40 455.30,348.40 455.30,348.40 455.30,348.40 455.30,348.40 455.31,348.40 455.31,348.40 455.31,348.40 455.31,348.40 455.31,348.40 455.32,348.40 455.32,348.40 455.32,348.40 455.33,348.40 455.34,348.40 455.34,348.40 455.35,348.40 455.36,348.39 455.38,348.39 455.39,348.39 455.41,348.39 455.44,348.39 455.46,348.39 455.49,348.38 455.53,348.38 455.57,348.37 455.62,348.37 455.68,348.36 455.75,348.36 455.83,348.35 455.92,348.34 456.02,348.32 456.14,348.31 456.28,348.29 456.44,348.28 456.62,348.25 456.82,348.23 457.05,348.20 457.31,348.16 457.60,348.12 457.93,348.08 458.30,348.02 458.71,347.96 459.17,347.89 459.67,347.81 460.23,347.72 460.85,347.62 461.54,347.50 462.29,347.37 463.11,347.23 464.00,347.06 464.98,346.88 466.04,346.67 467.18,346.44 468.42,346.18 469.76,345.89 471.19,345.57 472.72,345.22 474.36,344.83 476.10,344.39 477.95,343.91 479.91,343.39 481.98,342.81 484.16,342.17 486.45,341.47 488.85,340.71 491.35,339.88 493.95,338.98 496.66,338.01 499.46,336.95 502.35,335.82 505.33,334.60 508.39,333.28 511.52,331.88 514.72,330.38 517.97,328.79 521.28,327.10 524.63,325.30 528.01,323.41 531.42,321.42 534.84,319.33 538.26,317.15 541.68,314.86 545.09,312.49 548.47,310.02 551.82,307.47 555.13,304.85 558.38,302.14 561.58,299.37 564.71,296.54 567.77,293.66 570.75,290.74 573.64,287.77 576.44,284.79 579.15,281.78 581.75,278.77 584.25,275.77 586.65,272.77 588.94,269.81 591.12,266.87 593.19,263.98 595.15,261.14 597.00,258.36 598.74,255.65 600.38,253.01 601.91,250.46 603.34,248.00 604.68,245.63 605.92,243.37 607.06,241.20 608.12,239.15 609.10,237.20 609.99,235.36 610.81,233.63 611.56,232.02 612.25,230.51 612.87,229.11 613.43,227.82 613.93,226.63 614.39,225.53 614.80,224.53 615.17,223.62 615.50,222.79 615.79,222.03 616.05,221.35 616.28,220.74 616.48,220.20 616.66,219.71 616.82,219.27 616.96,218.89 617.08,218.55 617.18,218.25 617.27,217.98 617.35,217.75 617.42,217.55 617.48,217.38 617.53,217.23 617.57,217.10 617.61,216.99 617.64,216.89 617.66,216.81 617.69,216.74 617.71,216.69 617.72,216.64 617.74,216.59 617.75,216.56 617.76,216.53 617.76,216.51 617.77,216.49 617.78,216.47 617.78,216.46 617.78,216.45 617.79,216.44 617.79,216.43 617.79,216.42 617.79,216.42 617.79,216.41 617.80,216.41 617.80,216.41 617.80,216.41 617.80,216.41 617.80,216.40" fill="none" stroke="#e040e0" stroke-width="1.2" stroke-dasharray="1.15 3.45" stroke-linejoin="round"/>
<polyline points="455.30,348.40 455.30,348.40 455.30,348.40 455.30,348.40 455.30,348.40 455.31,348.40 455.31,348.40 455.31,348.40 455.31,348.40 455.31,348.39 455.32,348.39 455.32,348.39 455.32,348.39 455.33,348.39 455.34,348.38 455.34,348.38 455.35,348.38 455.36,348.37 455.38,348.37 455.39,348.36 455.41,348.36 455.44,348.35 455.46,348.34 455.49,348.33 455.53,348.31 455.57,348.30 455.62,348.28 455.68,348.26 455.75,348.24 455.83,348.21 455.92,348.18 456.02,348.14 456.14,348.10 456.28,348.06 456.44,348.00 456.62,347.94 456.82,347.87 457.05,347.80 457.31,347.71 457.60,347.61 457.93,347.50 458.30,347.37 458.71,347.23 459.17,347.07 459.67,346.90 460.23,346.70 460.85,346.49 461.54,346.25 462.29,345.98 463.11,345.69 464.00,345.37 464.98,345.01 466.04,344.63 467.18,344.20 468.42,343.73 469.76,343.21 471.19,342.65 472.72,342.03 474.36,341.36 476.10,340.63 477.95,339.83 479.91,338.97 481.98,338.04 484.16,337.03 486.45,335.95 488.85,334.78 491.35,333.53 493.95,332.19 496.66,330.76 499.46,329.24 502.35,327.63 505.33,325.92 508.39,324.11 511.52,322.20 514.72,320.20 517.97,318.10 521.28,315.90 524.63,313.61 528.01,311.23 531.42,308.76 534.84,306.20 538.26,303.57 541.68,300.87 545.09,298.09 548.47,295.26 551.82,292.37 555.13,289.45 558.38,286.48 561.58,283.49 564.71,280.48 567.77,277.47 570.75,274.46 573.64,271.47 576.44,268.49 579.15,265.56 581.75,262.66 584.25,259.82 586.65,257.04 588.94,254.33 591.12,251.70 593.19,249.16 595.15,246.71 597.00,244.35 598.74,242.10 600.38,239.96 601.91,237.92 603.34,236.00 604.68,234.19 605.92,232.49 607.06,230.90 608.12,229.42 609.10,228.05 609.99,226.79 610.81,225.63 611.56,224.57 612.25,223.61 612.87,222.74 613.43,221.95 613.93,221.25 614.39,220.62 614.80,220.06 615.17,219.56 615.50,219.12 615.79,218.73 616.05,218.40 616.28,218.10 616.48,217.84 616.66,217.62 616.82,217.43 616.96,217.26 617.08,217.12 617.18,217.00 617.27,216.90 617.35,216.81 617.42,216.74 617.48,216.68 617.53,216.63 617.57,216.59 617.61,216.55 617.64,216.52 617.66,216.50 617.69,216.48 617.71,216.46 617.72,216.45 617.74,216.44 617.75,216.43 617.76,216.43 617.76,216.42 617.77,216.42 617.78,216.41 617.78,216.41 617.78,216.41 617.79,216.41 617.79,216.40 617.79,216.40 617.79,216.40 617.79,216.40 617.80,216.40 617.80,216.40 617.80,216.40 617.80,216.40 617.80,216.40" fill="none" stroke="#ff0000" stroke-width="1.2" stroke-dasharray="4.60 4.60" stroke-linejoin="round"/>
<polyline points="455.30,348.40 455.30,348.40 455.30,348.40 455.30,348.40 455.30,348.40 455.31,348.40 455.31,348.39 455.31,348.39 455.31,348.39 455.31,348.38 455.32,348.38 455.32,348.37 455.32,348.37 455.33,348.36 455.34,348.34 455.34,348.33 455.35,348.31 455.36,348.28 455.38,348.25 455.39,348.21 455.41,348.16 455.44,348.10 455.46,348.03 455.49,347.94 455.53,347.83 455.57,347.70 455.62,347.55 455.68,347.36 455.75,347.14 455.83,346.89 455.92,346.59 456.02,346.23 456.14,345.83 456.28,345.35 456.44,344.81 456.62,344.19 456.82,343.48 457.05,342.68 457.31,341.77 457.60,340.76 457.93,339.62 458.30,338.36 458.71,336.97 459.17,335.47 459.67,333.84 460.23,332.10 460.85,330.25 461.54,328.28 462.29,326.20 463.11,324.02 464.00,321.73 464.98,319.36 466.04,316.90 467.18,314.35 468.42,311.74 469.76,309.07 471.19,306.34 472.72,303.57 474.36,300.76 476.10,297.92 477.95,295.07 479.91,292.20 481.98,289.33 484.16,286.48 486.45,283.63 488.85,280.81 491.35,278.02 493.95,275.26 496.66,272.55 499.46,269.88 502.35,267.27 505.33,264.71 508.39,262.21 511.52,259.78 514.72,257.42 517.97,255.13 521.28,252.91 524.63,250.77 528.01,248.70 531.42,246.71 534.84,244.80 538.26,242.97 541.68,241.22 545.09,239.54 548.47,237.94 551.82,236.42 555.13,234.97 558.38,233.60 561.58,232.30 564.71,231.07 567.77,229.91 570.75,228.81 573.64,227.79 576.44,226.83 579.15,225.93 581.75,225.09 584.25,224.31 586.65,223.59 588.94,222.92 591.12,222.30 593.19,221.73 595.15,221.20 597.00,220.72 598.74,220.28 600.38,219.87 601.91,219.51 603.34,219.17 604.68,218.87 605.92,218.59 607.06,218.34 608.12,218.12 609.10,217.92 609.99,217.74 610.81,217.58 611.56,217.43 612.25,217.31 612.87,217.19 613.43,217.09 613.93,217.00 614.39,216.92 614.80,216.85 615.17,216.79 615.50,216.74 615.79,216.69 616.05,216.65 616.28,216.61 616.48,216.58 616.66,216.56 616.82,216.53 616.96,216.51 617.08,216.50 617.18,216.48 617.27,216.47 617.35,216.46 617.42,216.45 617.48,216.44 617.53,216.43 617.57,216.43 617.61,216.42 617.64,216.42 617.66,216.42 617.69,216.41 617.71,216.41 617.72,216.41 617.74,216.41 617.75,216.41 617.76,216.41 617.76,216.40 617.77,216.40 617.78,216.40 617.78,216.40 617.78,216.40 617.79,216.40 617.79,216.40 617.79,216.40 617.79,216.40 617.79,216.40 617.80,216.40 617.80,216.40 617.80,216.40 617.80,216.40 617.80,216.40" fill="none" stroke="#ffa500" stroke-width="1.2" stroke-dasharray="8.05 3.45" stroke-linejoin="round"/>
<polyline points="455.30,348.40 455.30,348.40 455.30,348.40 455.30,348.40 455.30,348.40 455.30,348.40 455.31,348.40 455.31,348.40 455.31,348.40 455.31,348.40 455.31,348.40 455.31,348.39 455.32,348.39 455.32,348.39 455.32,348.38 455.32,348.37 455.33,348.36 455.33,348.34 455.34,348.32 455.35,348.28 455.36,348.24 455.36,348.18 455.37,348.10 455.39,347.99 455.40,347.86 455.42,347.68 455.44,347.46 455.46,347.17 455.48,346.81 455.51,346.37 455.54,345.83 455.57,345.16 455.61,344.36 455.66,343.40 455.71,342.26 455.76,340.92 455.83,339.36 455.90,337.56 455.98,335.50 456.07,333.17 456.17,330.56 456.28,327.65 456.40,324.45 456.54,320.96 456.69,316.78 456.86,312.12 457.04,307.55 457.24,303.41 457.47,300.01 457.71,297.18 457.98,294.73 458.28,292.54 458.60,290.51 458.95,288.52 459.34,286.45 459.75,284.18 460.20,281.58 460.69,278.44 461.22,274.91 461.78,271.38 462.40,268.23 463.06,265.80 463.76,263.91 464.52,262.30 465.33,260.85 466.19,259.49 467.11,258.12 468.08,256.69 469.12,255.31 470.22,253.98 471.38,252.64 472.61,251.25 473.90,249.78 475.26,248.09 476.69,246.34 478.19,244.81 479.76,243.57 481.40,242.48 483.11,241.49 484.88,240.55 486.73,239.63 488.65,238.79 490.63,238.01 492.68,237.21 494.80,236.35 496.98,235.32 499.22,234.12 501.51,232.91 503.87,231.83 506.27,230.97 508.73,230.25 511.23,229.60 513.78,229.01 516.36,228.45 518.98,227.90 521.63,227.33 524.31,226.73 527.01,226.09 529.72,225.43 532.45,224.82 535.18,224.27 537.92,223.78 540.65,223.32 543.38,222.89 546.09,222.48 548.79,222.10 551.47,221.74 554.12,221.41 556.74,221.11 559.32,220.82 561.87,220.55 564.37,220.31 566.83,220.08 569.23,219.87 571.59,219.67 573.88,219.46 576.12,219.26 578.30,219.06 580.42,218.88 582.47,218.71 584.45,218.55 586.37,218.40 588.22,218.26 589.99,218.13 591.70,218.00 593.34,217.88 594.91,217.78 596.41,217.67 597.84,217.58 599.20,217.49 600.49,217.41 601.72,217.33 602.88,217.26 603.98,217.19 605.02,217.13 605.99,217.07 606.91,217.01 607.77,216.96 608.58,216.92 609.34,216.87 610.04,216.84 610.70,216.80 611.32,216.76 611.88,216.73 612.41,216.70 612.90,216.68 613.35,216.65 613.76,216.63 614.15,216.61 614.50,216.59 614.82,216.57 615.12,216.56 615.39,216.54 615.63,216.53 615.86,216.52 616.06,216.51 616.24,216.50 616.41,216.49 616.56,216.48 616.70,216.47 616.82,216.46 616.93,216.46 617.03,216.45 617.12,216.45 617.20,216.44 617.27,216.44 617.34,216.43 617.39,216.43 617.44,216.43 617.49,216.42 617.53,216.42 617.56,216.42 617.59,216.42 617.62,216.42 617.64,216.41 617.66,216.41 617.68,216.41 617.70,216.41 617.71,216.41 617.73,216.41 617.74,216.41 617.74,216.41 617.75,216.41 617.76,216.40 617.77,216.40 617.77,216.40 617.78,216.40 617.78,216.40 617.78,216.40 617.78,216.40 617.79,216.40 617.79,216.40 617.79,216.40 617.79,216.40 617.79,216.40 617.79,216.40 617.80,216.40 617.80,216.40 617.80,216.40 617.80,216.40 617.80,216.40 617.80,216.40" fill="none" stroke="#000000" stroke-width="1.2" stroke-linejoin="round"/>
<text xml:space="preserve" x="536.55" y="204.00" font-size="7.9" font-weight="bold" text-anchor="middle" fill="#111">0 % up  60 % down</text>
<text x="448.60" y="204.80" font-size="6.3" fill="#333">f)</text>
<text x="0" y="0" transform="translate(11.2,186.9) rotate(-90)" font-size="8" text-anchor="middle" fill="#222">Sensitivity</text>
<text x="333.8" y="377.2" font-size="7.9" text-anchor="middle" fill="#222">1−Specificity</text>
<line x1="624" y1="159.30" x2="638.3" y2="159.30" stroke="#000000" stroke-width="1.2"/>
<text x="644.6" y="162.10" font-size="8.1" fill="#000000">NN</text>
<line x1="624" y1="168.37" x2="638.3" y2="168.37" stroke="#ff0000" stroke-width="1.2" stroke-dasharray="4.60 4.60"/>
<text x="644.6" y="171.17" font-size="8.1" fill="#ff0000">VSN</text>
<line x1="624" y1="177.44" x2="638.3" y2="177.44" stroke="#e040e0" stroke-width="1.2" stroke-dasharray="1.15 3.45"/>
<text x="644.6" y="180.24" font-size="8.1" fill="#e040e0">GL</text>
<line x1="624" y1="186.51" x2="638.3" y2="186.51" stroke="#0000ff" stroke-width="1.2" stroke-dasharray="1.15 3.45 4.60 3.45"/>
<text x="644.6" y="189.31" font-size="8.1" fill="#0000ff">InvTseng</text>
<line x1="624" y1="195.58" x2="638.3" y2="195.58" stroke="#ffa500" stroke-width="1.2" stroke-dasharray="8.05 3.45"/>
<text x="644.6" y="198.38" font-size="8.1" fill="#ffa500">InvMod</text>
<line x1="624" y1="204.65" x2="638.3" y2="204.65" stroke="#00e000" stroke-width="1.2" stroke-dasharray="2.30 2.30 6.90 2.30"/>
<text x="644.6" y="207.45" font-size="8.1" fill="#00e000">RDWGL</text>
<line x1="624" y1="213.72" x2="638.3" y2="213.72" stroke="#a52a2a" stroke-width="1.2"/>
<text x="644.6" y="216.52" font-size="8.1" fill="#a52a2a">GPA</text>
</svg></body></html>
